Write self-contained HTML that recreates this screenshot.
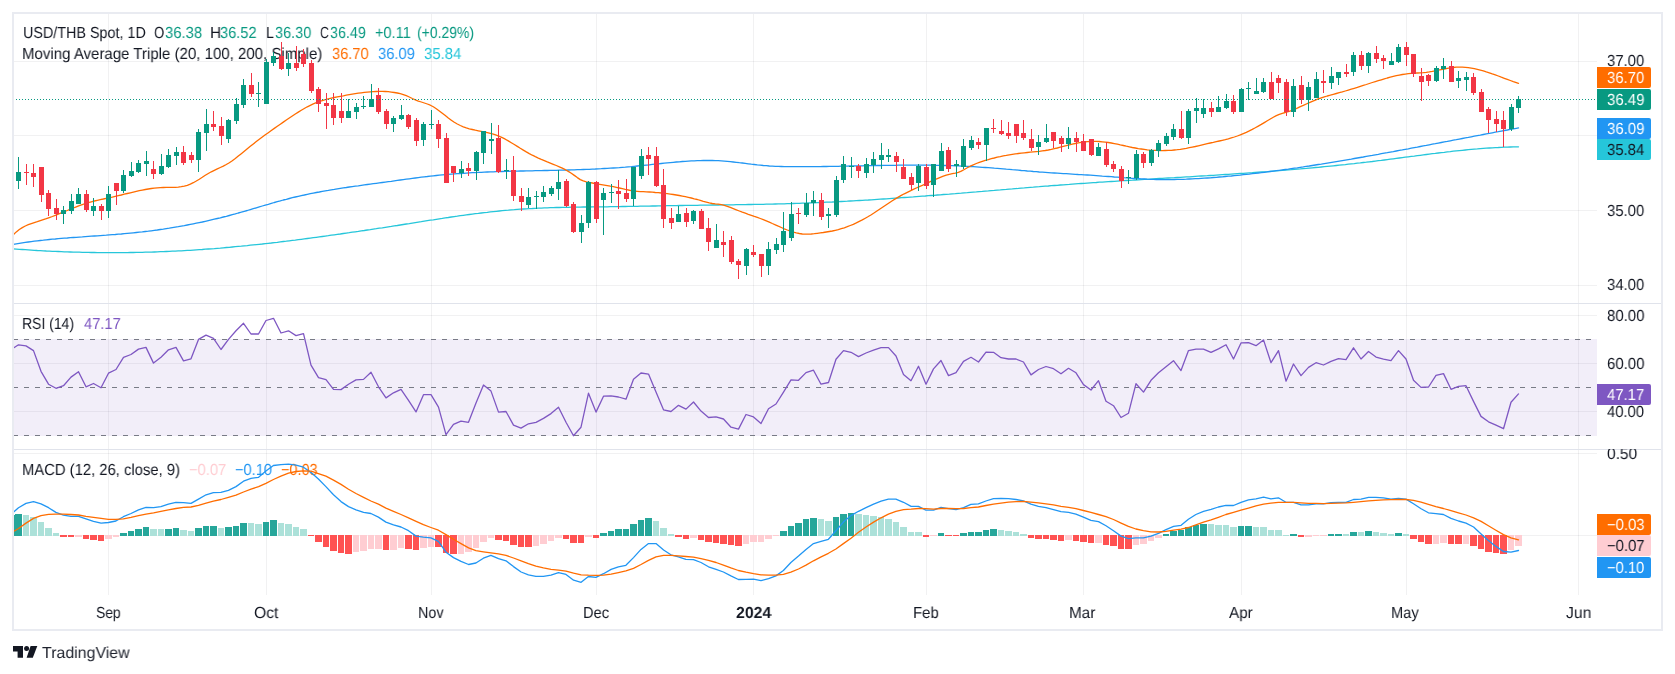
<!DOCTYPE html>
<html><head><meta charset="utf-8"><title>USD/THB chart</title>
<style>
html,body{margin:0;padding:0;background:#fff;}
body{width:1675px;height:674px;position:relative;overflow:hidden;font-family:"Liberation Sans",sans-serif;}
svg{position:absolute;left:0;top:0;display:block;}
.t{position:absolute;white-space:pre;line-height:1;text-rendering:geometricPrecision;transform-origin:0 0;will-change:transform;font-family:"Liberation Sans",sans-serif;}
</style></head><body>
<svg width="1675" height="674" viewBox="0 0 1675 674">
<rect x="0" y="0" width="1675" height="674" fill="#fff"/>
<rect x="108" y="14" width="1" height="581" fill="#2a2e39" fill-opacity="0.065"/>
<rect x="266" y="14" width="1" height="581" fill="#2a2e39" fill-opacity="0.065"/>
<rect x="431" y="14" width="1" height="581" fill="#2a2e39" fill-opacity="0.065"/>
<rect x="596" y="14" width="1" height="581" fill="#2a2e39" fill-opacity="0.065"/>
<rect x="753" y="14" width="1" height="581" fill="#2a2e39" fill-opacity="0.065"/>
<rect x="926" y="14" width="1" height="581" fill="#2a2e39" fill-opacity="0.065"/>
<rect x="1083" y="14" width="1" height="581" fill="#2a2e39" fill-opacity="0.065"/>
<rect x="1241" y="14" width="1" height="581" fill="#2a2e39" fill-opacity="0.065"/>
<rect x="1406" y="14" width="1" height="581" fill="#2a2e39" fill-opacity="0.065"/>
<rect x="1578" y="14" width="1" height="581" fill="#2a2e39" fill-opacity="0.065"/>
<rect x="14" y="61" width="1583" height="1" fill="#2a2e39" fill-opacity="0.065"/>
<rect x="14" y="135" width="1583" height="1" fill="#2a2e39" fill-opacity="0.065"/>
<rect x="14" y="210" width="1583" height="1" fill="#2a2e39" fill-opacity="0.065"/>
<rect x="14" y="285" width="1583" height="1" fill="#2a2e39" fill-opacity="0.065"/>
<rect x="14" y="315" width="1583" height="1" fill="#2a2e39" fill-opacity="0.065"/>
<rect x="14" y="363" width="1583" height="1" fill="#2a2e39" fill-opacity="0.065"/>
<rect x="14" y="411" width="1583" height="1" fill="#2a2e39" fill-opacity="0.065"/>
<rect x="14" y="453" width="1583" height="1" fill="#2a2e39" fill-opacity="0.065"/>
<rect x="14" y="535" width="1583" height="1" fill="#2a2e39" fill-opacity="0.065"/>
<rect x="14" y="339" width="1583" height="97" fill="#7e57c2" fill-opacity="0.1"/>
<line x1="13" y1="339.5" x2="1597" y2="339.5" stroke="#787b86" stroke-width="1" stroke-dasharray="5 6"/>
<line x1="13" y1="387.5" x2="1597" y2="387.5" stroke="#787b86" stroke-width="1" stroke-dasharray="5 6"/>
<line x1="13" y1="435.5" x2="1597" y2="435.5" stroke="#787b86" stroke-width="1" stroke-dasharray="5 6"/>
</svg>
<div class="t" style="left:22.88px;top:26px;font-size:16px;color:#131722;transform:scaleX(0.8963);">USD/THB Spot, 1D</div>
<div class="t" style="left:154.08px;top:26px;font-size:16px;color:#131722;transform:scaleX(0.8273);">O</div>
<div class="t" style="left:164.54px;top:26px;font-size:16px;color:#089981;transform:scaleX(0.9256);">36.38</div>
<div class="t" style="left:209.61px;top:26px;font-size:16px;color:#131722;transform:scaleX(0.9556);">H</div>
<div class="t" style="left:220.44px;top:26px;font-size:16px;color:#089981;transform:scaleX(0.911);">36.52</div>
<div class="t" style="left:266.1px;top:26px;font-size:16px;color:#131722;transform:scaleX(0.8828);">L</div>
<div class="t" style="left:274.55px;top:26px;font-size:16px;color:#089981;transform:scaleX(0.9051);">36.30</div>
<div class="t" style="left:319.63px;top:26px;font-size:16px;color:#131722;transform:scaleX(0.761);">C</div>
<div class="t" style="left:329.65px;top:26px;font-size:16px;color:#089981;transform:scaleX(0.8929);">36.49</div>
<div class="t" style="left:375.02px;top:26px;font-size:16px;color:#089981;transform:scaleX(0.9086);">+0.11</div>
<div class="t" style="left:416.63px;top:26px;font-size:16px;color:#089981;transform:scaleX(0.8724);">(+0.29%)</div>
<div class="t" style="left:22.33px;top:47px;font-size:16px;color:#131722;transform:scaleX(0.9388);">Moving Average Triple (20, 100, 200, Simple)</div>
<div class="t" style="left:332.04px;top:47px;font-size:16px;color:#ff6d00;transform:scaleX(0.9128);">36.70</div>
<div class="t" style="left:377.84px;top:47px;font-size:16px;color:#2196f3;transform:scaleX(0.9187);">36.09</div>
<div class="t" style="left:423.83px;top:47px;font-size:16px;color:#26c6da;transform:scaleX(0.9308);">35.84</div>
<div class="t" style="left:22.31px;top:317px;font-size:16px;color:#131722;transform:scaleX(0.873);">RSI (14)</div>
<div class="t" style="left:83.57px;top:317px;font-size:16px;color:#7e57c2;transform:scaleX(0.9154);">47.17</div>
<div class="t" style="left:22.24px;top:463px;font-size:16px;color:#131722;transform:scaleX(0.9252);">MACD (12, 26, close, 9)</div>
<div class="t" style="left:188.91px;top:463px;font-size:16px;color:#ffcdd2;transform:scaleX(0.9205);">−0.07</div>
<div class="t" style="left:235.21px;top:463px;font-size:16px;color:#2196f3;transform:scaleX(0.9146);">−0.10</div>
<div class="t" style="left:281.42px;top:463px;font-size:16px;color:#ff6d00;transform:scaleX(0.9051);">−0.03</div>
<svg width="1675" height="674" viewBox="0 0 1675 674">
<rect x="14" y="515" width="1" height="21" fill="#26a69a"/>
<rect x="15" y="514" width="7" height="22" fill="#26a69a"/>
<rect x="23" y="515" width="6" height="21" fill="#ace1d9"/>
<rect x="30" y="517" width="7" height="19" fill="#ace1d9"/>
<rect x="38" y="522" width="6" height="14" fill="#ace1d9"/>
<rect x="45" y="528" width="7" height="8" fill="#ace1d9"/>
<rect x="53" y="533" width="6" height="3" fill="#ace1d9"/>
<rect x="60" y="535" width="7" height="2" fill="#ff5252"/>
<rect x="68" y="535" width="6" height="2" fill="#ff5252"/>
<rect x="75" y="535" width="7" height="2" fill="#ffcdd2"/>
<rect x="83" y="535" width="6" height="4" fill="#ff5252"/>
<rect x="90" y="535" width="7" height="5" fill="#ff5252"/>
<rect x="98" y="535" width="6" height="6" fill="#ff5252"/>
<rect x="105" y="535" width="7" height="4" fill="#ffcdd2"/>
<rect x="113" y="535" width="6" height="2" fill="#ffcdd2"/>
<rect x="120" y="533" width="7" height="3" fill="#26a69a"/>
<rect x="128" y="531" width="6" height="5" fill="#26a69a"/>
<rect x="135" y="529" width="7" height="7" fill="#26a69a"/>
<rect x="143" y="527" width="6" height="9" fill="#26a69a"/>
<rect x="150" y="529" width="7" height="7" fill="#ace1d9"/>
<rect x="158" y="529" width="6" height="7" fill="#ace1d9"/>
<rect x="165" y="529" width="7" height="7" fill="#26a69a"/>
<rect x="173" y="528" width="6" height="8" fill="#26a69a"/>
<rect x="180" y="530" width="7" height="6" fill="#ace1d9"/>
<rect x="188" y="531" width="6" height="5" fill="#ace1d9"/>
<rect x="195" y="528" width="7" height="8" fill="#26a69a"/>
<rect x="203" y="526" width="6" height="10" fill="#26a69a"/>
<rect x="210" y="526" width="7" height="10" fill="#26a69a"/>
<rect x="218" y="528" width="6" height="8" fill="#ace1d9"/>
<rect x="225" y="527" width="7" height="9" fill="#26a69a"/>
<rect x="233" y="526" width="6" height="10" fill="#26a69a"/>
<rect x="240" y="523" width="7" height="13" fill="#26a69a"/>
<rect x="248" y="523" width="6" height="13" fill="#ace1d9"/>
<rect x="255" y="524" width="7" height="12" fill="#ace1d9"/>
<rect x="263" y="522" width="6" height="14" fill="#26a69a"/>
<rect x="270" y="520" width="7" height="16" fill="#26a69a"/>
<rect x="278" y="523" width="6" height="13" fill="#ace1d9"/>
<rect x="285" y="524" width="7" height="12" fill="#ace1d9"/>
<rect x="293" y="527" width="6" height="9" fill="#ace1d9"/>
<rect x="300" y="529" width="7" height="7" fill="#ace1d9"/>
<rect x="308" y="535" width="6" height="1" fill="#ff5252"/>
<rect x="315" y="535" width="7" height="7" fill="#ff5252"/>
<rect x="323" y="535" width="6" height="12" fill="#ff5252"/>
<rect x="330" y="535" width="7" height="16" fill="#ff5252"/>
<rect x="338" y="535" width="6" height="18" fill="#ff5252"/>
<rect x="345" y="535" width="7" height="19" fill="#ff5252"/>
<rect x="353" y="535" width="6" height="17" fill="#ffcdd2"/>
<rect x="360" y="535" width="7" height="16" fill="#ffcdd2"/>
<rect x="368" y="535" width="6" height="14" fill="#ffcdd2"/>
<rect x="375" y="535" width="7" height="14" fill="#ffcdd2"/>
<rect x="383" y="535" width="6" height="15" fill="#ff5252"/>
<rect x="390" y="535" width="7" height="15" fill="#ffcdd2"/>
<rect x="398" y="535" width="6" height="13" fill="#ffcdd2"/>
<rect x="405" y="535" width="7" height="14" fill="#ff5252"/>
<rect x="413" y="535" width="6" height="15" fill="#ff5252"/>
<rect x="420" y="535" width="7" height="13" fill="#ffcdd2"/>
<rect x="428" y="535" width="6" height="12" fill="#ffcdd2"/>
<rect x="435" y="535" width="7" height="12" fill="#ff5252"/>
<rect x="443" y="535" width="6" height="18" fill="#ff5252"/>
<rect x="450" y="535" width="7" height="19" fill="#ff5252"/>
<rect x="458" y="535" width="6" height="19" fill="#ffcdd2"/>
<rect x="465" y="535" width="7" height="17" fill="#ffcdd2"/>
<rect x="473" y="535" width="6" height="13" fill="#ffcdd2"/>
<rect x="480" y="535" width="7" height="7" fill="#ffcdd2"/>
<rect x="488" y="535" width="6" height="3" fill="#ffcdd2"/>
<rect x="495" y="535" width="7" height="5" fill="#ff5252"/>
<rect x="503" y="535" width="6" height="6" fill="#ff5252"/>
<rect x="510" y="535" width="7" height="10" fill="#ff5252"/>
<rect x="518" y="535" width="6" height="12" fill="#ff5252"/>
<rect x="525" y="535" width="7" height="12" fill="#ff5252"/>
<rect x="533" y="535" width="6" height="11" fill="#ffcdd2"/>
<rect x="540" y="535" width="7" height="9" fill="#ffcdd2"/>
<rect x="548" y="535" width="6" height="6" fill="#ffcdd2"/>
<rect x="555" y="535" width="7" height="3" fill="#ffcdd2"/>
<rect x="563" y="535" width="6" height="4" fill="#ff5252"/>
<rect x="570" y="535" width="7" height="8" fill="#ff5252"/>
<rect x="578" y="535" width="6" height="8" fill="#ff5252"/>
<rect x="585" y="535" width="7" height="2" fill="#ffcdd2"/>
<rect x="593" y="535" width="6" height="3" fill="#ff5252"/>
<rect x="600" y="533" width="7" height="3" fill="#26a69a"/>
<rect x="608" y="531" width="6" height="5" fill="#26a69a"/>
<rect x="615" y="529" width="7" height="7" fill="#26a69a"/>
<rect x="623" y="529" width="6" height="7" fill="#26a69a"/>
<rect x="630" y="524" width="7" height="12" fill="#26a69a"/>
<rect x="638" y="520" width="6" height="16" fill="#26a69a"/>
<rect x="645" y="518" width="7" height="18" fill="#26a69a"/>
<rect x="653" y="521" width="6" height="15" fill="#ace1d9"/>
<rect x="660" y="528" width="7" height="8" fill="#ace1d9"/>
<rect x="668" y="534" width="6" height="2" fill="#ace1d9"/>
<rect x="675" y="535" width="7" height="2" fill="#ff5252"/>
<rect x="683" y="535" width="6" height="4" fill="#ff5252"/>
<rect x="690" y="535" width="7" height="3" fill="#ffcdd2"/>
<rect x="698" y="535" width="6" height="5" fill="#ff5252"/>
<rect x="705" y="535" width="7" height="7" fill="#ff5252"/>
<rect x="713" y="535" width="6" height="8" fill="#ff5252"/>
<rect x="720" y="535" width="7" height="9" fill="#ff5252"/>
<rect x="728" y="535" width="6" height="10" fill="#ff5252"/>
<rect x="735" y="535" width="7" height="11" fill="#ff5252"/>
<rect x="743" y="535" width="6" height="9" fill="#ffcdd2"/>
<rect x="750" y="535" width="7" height="7" fill="#ffcdd2"/>
<rect x="758" y="535" width="6" height="7" fill="#ffcdd2"/>
<rect x="765" y="535" width="7" height="4" fill="#ffcdd2"/>
<rect x="773" y="535" width="6" height="1" fill="#ffcdd2"/>
<rect x="780" y="531" width="7" height="5" fill="#26a69a"/>
<rect x="788" y="526" width="6" height="10" fill="#26a69a"/>
<rect x="795" y="523" width="7" height="13" fill="#26a69a"/>
<rect x="803" y="519" width="6" height="17" fill="#26a69a"/>
<rect x="810" y="518" width="7" height="18" fill="#26a69a"/>
<rect x="818" y="519" width="6" height="17" fill="#ace1d9"/>
<rect x="825" y="521" width="7" height="15" fill="#ace1d9"/>
<rect x="833" y="517" width="6" height="19" fill="#26a69a"/>
<rect x="840" y="514" width="7" height="22" fill="#26a69a"/>
<rect x="848" y="513" width="6" height="23" fill="#26a69a"/>
<rect x="855" y="514" width="7" height="22" fill="#ace1d9"/>
<rect x="863" y="515" width="6" height="21" fill="#ace1d9"/>
<rect x="870" y="516" width="7" height="20" fill="#ace1d9"/>
<rect x="878" y="517" width="6" height="19" fill="#ace1d9"/>
<rect x="885" y="519" width="7" height="17" fill="#ace1d9"/>
<rect x="893" y="522" width="6" height="14" fill="#ace1d9"/>
<rect x="900" y="527" width="7" height="9" fill="#ace1d9"/>
<rect x="908" y="532" width="6" height="4" fill="#ace1d9"/>
<rect x="915" y="532" width="7" height="4" fill="#ace1d9"/>
<rect x="923" y="535" width="6" height="2" fill="#ff5252"/>
<rect x="930" y="535" width="7" height="1" fill="#ffcdd2"/>
<rect x="938" y="533" width="6" height="3" fill="#26a69a"/>
<rect x="945" y="535" width="7" height="1" fill="#ff5252"/>
<rect x="953" y="535" width="6" height="1" fill="#ff5252"/>
<rect x="960" y="533" width="7" height="3" fill="#26a69a"/>
<rect x="968" y="532" width="6" height="4" fill="#26a69a"/>
<rect x="975" y="532" width="7" height="4" fill="#26a69a"/>
<rect x="983" y="530" width="6" height="6" fill="#26a69a"/>
<rect x="990" y="529" width="7" height="7" fill="#26a69a"/>
<rect x="998" y="530" width="6" height="6" fill="#ace1d9"/>
<rect x="1005" y="531" width="7" height="5" fill="#ace1d9"/>
<rect x="1013" y="532" width="6" height="4" fill="#ace1d9"/>
<rect x="1020" y="534" width="7" height="2" fill="#ace1d9"/>
<rect x="1028" y="535" width="6" height="3" fill="#ff5252"/>
<rect x="1035" y="535" width="7" height="4" fill="#ff5252"/>
<rect x="1043" y="535" width="6" height="4" fill="#ff5252"/>
<rect x="1050" y="535" width="7" height="5" fill="#ff5252"/>
<rect x="1058" y="535" width="6" height="6" fill="#ff5252"/>
<rect x="1065" y="535" width="7" height="5" fill="#ffcdd2"/>
<rect x="1073" y="535" width="6" height="6" fill="#ff5252"/>
<rect x="1080" y="535" width="7" height="7" fill="#ff5252"/>
<rect x="1088" y="535" width="6" height="8" fill="#ff5252"/>
<rect x="1095" y="535" width="7" height="8" fill="#ffcdd2"/>
<rect x="1103" y="535" width="6" height="10" fill="#ff5252"/>
<rect x="1110" y="535" width="7" height="11" fill="#ff5252"/>
<rect x="1118" y="535" width="6" height="14" fill="#ff5252"/>
<rect x="1125" y="535" width="7" height="14" fill="#ff5252"/>
<rect x="1133" y="535" width="6" height="10" fill="#ffcdd2"/>
<rect x="1140" y="535" width="7" height="9" fill="#ffcdd2"/>
<rect x="1148" y="535" width="6" height="6" fill="#ffcdd2"/>
<rect x="1155" y="535" width="7" height="3" fill="#ffcdd2"/>
<rect x="1163" y="534" width="6" height="2" fill="#26a69a"/>
<rect x="1170" y="531" width="7" height="5" fill="#26a69a"/>
<rect x="1178" y="530" width="6" height="6" fill="#26a69a"/>
<rect x="1185" y="527" width="7" height="9" fill="#26a69a"/>
<rect x="1193" y="525" width="6" height="11" fill="#26a69a"/>
<rect x="1200" y="524" width="7" height="12" fill="#26a69a"/>
<rect x="1208" y="524" width="6" height="12" fill="#ace1d9"/>
<rect x="1215" y="525" width="7" height="11" fill="#ace1d9"/>
<rect x="1223" y="525" width="6" height="11" fill="#ace1d9"/>
<rect x="1230" y="527" width="7" height="9" fill="#ace1d9"/>
<rect x="1238" y="526" width="6" height="10" fill="#26a69a"/>
<rect x="1245" y="526" width="7" height="10" fill="#26a69a"/>
<rect x="1253" y="527" width="6" height="9" fill="#ace1d9"/>
<rect x="1260" y="527" width="7" height="9" fill="#ace1d9"/>
<rect x="1268" y="530" width="6" height="6" fill="#ace1d9"/>
<rect x="1275" y="530" width="7" height="6" fill="#ace1d9"/>
<rect x="1283" y="535" width="6" height="1" fill="#ace1d9"/>
<rect x="1290" y="534" width="7" height="2" fill="#26a69a"/>
<rect x="1298" y="535" width="6" height="2" fill="#ff5252"/>
<rect x="1305" y="535" width="7" height="2" fill="#ffcdd2"/>
<rect x="1313" y="535" width="6" height="1" fill="#ffcdd2"/>
<rect x="1320" y="535" width="7" height="1" fill="#ffcdd2"/>
<rect x="1328" y="534" width="6" height="2" fill="#26a69a"/>
<rect x="1335" y="534" width="7" height="2" fill="#26a69a"/>
<rect x="1343" y="534" width="6" height="2" fill="#ace1d9"/>
<rect x="1350" y="532" width="7" height="4" fill="#26a69a"/>
<rect x="1358" y="532" width="6" height="4" fill="#ace1d9"/>
<rect x="1365" y="531" width="7" height="5" fill="#26a69a"/>
<rect x="1373" y="532" width="6" height="4" fill="#ace1d9"/>
<rect x="1380" y="533" width="7" height="3" fill="#ace1d9"/>
<rect x="1388" y="534" width="6" height="2" fill="#ace1d9"/>
<rect x="1395" y="533" width="7" height="3" fill="#26a69a"/>
<rect x="1403" y="534" width="6" height="2" fill="#ace1d9"/>
<rect x="1410" y="535" width="7" height="4" fill="#ff5252"/>
<rect x="1418" y="535" width="6" height="7" fill="#ff5252"/>
<rect x="1425" y="535" width="7" height="9" fill="#ff5252"/>
<rect x="1433" y="535" width="6" height="9" fill="#ffcdd2"/>
<rect x="1440" y="535" width="7" height="8" fill="#ffcdd2"/>
<rect x="1448" y="535" width="6" height="9" fill="#ff5252"/>
<rect x="1455" y="535" width="7" height="9" fill="#ff5252"/>
<rect x="1463" y="535" width="6" height="9" fill="#ffcdd2"/>
<rect x="1470" y="535" width="7" height="11" fill="#ff5252"/>
<rect x="1478" y="535" width="6" height="14" fill="#ff5252"/>
<rect x="1485" y="535" width="7" height="17" fill="#ff5252"/>
<rect x="1493" y="535" width="6" height="18" fill="#ff5252"/>
<rect x="1500" y="535" width="7" height="19" fill="#ff5252"/>
<rect x="1508" y="535" width="6" height="15" fill="#ffcdd2"/>
<rect x="1515" y="535" width="7" height="11" fill="#ffcdd2"/>
<path d="M13.3 248.9 L16.3 249.1 L19.3 249.3 L22.3 249.5 L25.3 249.7 L28.3 249.9 L31.3 250.1 L34.3 250.3 L37.3 250.5 L40.3 250.6 L43.3 250.8 L46.3 251.0 L49.3 251.1 L52.3 251.3 L55.3 251.4 L58.3 251.5 L61.3 251.6 L64.3 251.8 L67.3 251.9 L70.3 252.0 L73.3 252.1 L76.3 252.1 L79.3 252.2 L82.3 252.3 L85.3 252.4 L88.3 252.4 L91.3 252.5 L94.3 252.5 L97.3 252.6 L100.3 252.6 L103.3 252.6 L106.3 252.6 L109.3 252.6 L112.3 252.6 L115.3 252.6 L118.3 252.6 L121.3 252.6 L124.3 252.6 L127.3 252.6 L130.3 252.5 L133.3 252.5 L136.3 252.4 L139.3 252.4 L142.3 252.3 L145.3 252.2 L148.3 252.1 L151.3 252.1 L154.3 252.0 L157.3 251.9 L160.3 251.7 L163.3 251.6 L166.3 251.5 L169.3 251.4 L172.3 251.2 L175.3 251.1 L178.3 250.9 L181.3 250.8 L184.3 250.6 L187.3 250.4 L190.3 250.3 L193.3 250.1 L196.3 249.9 L199.3 249.7 L202.3 249.5 L205.3 249.2 L208.3 249.0 L211.3 248.8 L214.3 248.6 L217.3 248.3 L220.3 248.1 L223.3 247.8 L226.3 247.5 L229.3 247.3 L232.3 247.0 L235.3 246.7 L238.3 246.4 L241.3 246.2 L244.3 245.9 L247.3 245.6 L250.3 245.2 L253.3 244.9 L256.3 244.6 L259.3 244.3 L262.3 244.0 L265.3 243.6 L268.3 243.3 L271.3 243.0 L274.3 242.6 L277.3 242.3 L280.3 241.9 L283.3 241.5 L286.3 241.2 L289.3 240.8 L292.3 240.4 L295.3 240.1 L298.3 239.7 L301.3 239.3 L304.3 238.9 L307.3 238.5 L310.3 238.1 L313.3 237.7 L316.3 237.3 L319.3 236.9 L322.3 236.5 L325.3 236.1 L328.3 235.7 L331.3 235.2 L334.3 234.8 L337.3 234.4 L340.3 234.0 L343.3 233.5 L346.3 233.1 L349.3 232.7 L352.3 232.2 L355.3 231.8 L358.3 231.4 L361.3 230.9 L364.3 230.5 L367.3 230.0 L370.3 229.6 L373.3 229.1 L376.3 228.7 L379.3 228.2 L382.3 227.8 L385.3 227.3 L388.3 226.8 L391.3 226.4 L394.3 225.9 L397.3 225.5 L400.3 225.0 L403.3 224.5 L406.3 224.0 L409.3 223.6 L412.3 223.1 L415.3 222.6 L418.3 222.1 L421.3 221.7 L424.3 221.2 L427.3 220.7 L430.3 220.2 L433.3 219.8 L436.3 219.3 L439.3 218.8 L442.3 218.4 L445.3 217.9 L448.3 217.5 L451.3 217.0 L454.3 216.6 L457.3 216.2 L460.3 215.7 L463.3 215.3 L466.3 214.9 L469.3 214.5 L472.3 214.1 L475.3 213.7 L478.3 213.4 L481.3 213.0 L484.3 212.6 L487.3 212.3 L490.3 211.9 L493.3 211.6 L496.3 211.3 L499.3 211.0 L502.3 210.7 L505.3 210.4 L508.3 210.2 L511.3 209.9 L514.3 209.7 L517.3 209.4 L520.3 209.2 L523.3 209.0 L526.3 208.8 L529.3 208.6 L532.3 208.5 L535.3 208.3 L538.3 208.2 L541.3 208.1 L544.3 207.9 L547.3 207.8 L550.3 207.7 L553.3 207.6 L556.3 207.5 L559.3 207.5 L562.3 207.4 L565.3 207.3 L568.3 207.3 L571.3 207.2 L574.3 207.2 L577.3 207.1 L580.3 207.1 L583.3 207.0 L586.3 207.0 L589.3 207.0 L592.3 206.9 L595.3 206.9 L598.3 206.9 L601.3 206.8 L604.3 206.8 L607.3 206.8 L610.3 206.7 L613.3 206.7 L616.3 206.6 L619.3 206.6 L622.3 206.5 L625.3 206.5 L628.3 206.4 L631.3 206.4 L634.3 206.3 L637.3 206.3 L640.3 206.2 L643.3 206.2 L646.3 206.1 L649.3 206.1 L652.3 206.0 L655.3 206.0 L658.3 205.9 L661.3 205.8 L664.3 205.8 L667.3 205.7 L670.3 205.7 L673.3 205.6 L676.3 205.6 L679.3 205.5 L682.3 205.5 L685.3 205.4 L688.3 205.4 L691.3 205.3 L694.3 205.3 L697.3 205.3 L700.3 205.2 L703.3 205.2 L706.3 205.1 L709.3 205.1 L712.3 205.0 L715.3 205.0 L718.3 205.0 L721.3 204.9 L724.3 204.9 L727.3 204.9 L730.3 204.8 L733.3 204.8 L736.3 204.7 L739.3 204.7 L742.3 204.6 L745.3 204.6 L748.3 204.5 L751.3 204.5 L754.3 204.4 L757.3 204.4 L760.3 204.3 L763.3 204.3 L766.3 204.2 L769.3 204.2 L772.3 204.1 L775.3 204.0 L778.3 203.9 L781.3 203.9 L784.3 203.8 L787.3 203.7 L790.3 203.6 L793.3 203.5 L796.3 203.4 L799.3 203.3 L802.3 203.2 L805.3 203.1 L808.3 203.0 L811.3 202.9 L814.3 202.8 L817.3 202.6 L820.3 202.5 L823.3 202.4 L826.3 202.2 L829.3 202.1 L832.3 202.0 L835.3 201.8 L838.3 201.7 L841.3 201.5 L844.3 201.3 L847.3 201.2 L850.3 201.0 L853.3 200.9 L856.3 200.7 L859.3 200.5 L862.3 200.3 L865.3 200.1 L868.3 200.0 L871.3 199.8 L874.3 199.6 L877.3 199.4 L880.3 199.2 L883.3 199.0 L886.3 198.8 L889.3 198.6 L892.3 198.4 L895.3 198.2 L898.3 198.0 L901.3 197.7 L904.3 197.5 L907.3 197.3 L910.3 197.1 L913.3 196.9 L916.3 196.6 L919.3 196.4 L922.3 196.2 L925.3 196.0 L928.3 195.7 L931.3 195.5 L934.3 195.3 L937.3 195.0 L940.3 194.8 L943.3 194.5 L946.3 194.3 L949.3 194.1 L952.3 193.8 L955.3 193.6 L958.3 193.3 L961.3 193.1 L964.3 192.8 L967.3 192.6 L970.3 192.3 L973.3 192.1 L976.3 191.9 L979.3 191.6 L982.3 191.4 L985.3 191.1 L988.3 190.9 L991.3 190.6 L994.3 190.4 L997.3 190.1 L1000.3 189.9 L1003.3 189.6 L1006.3 189.4 L1009.3 189.1 L1012.3 188.9 L1015.3 188.6 L1018.3 188.4 L1021.3 188.1 L1024.3 187.9 L1027.3 187.6 L1030.3 187.4 L1033.3 187.2 L1036.3 186.9 L1039.3 186.7 L1042.3 186.4 L1045.3 186.2 L1048.3 186.0 L1051.3 185.7 L1054.3 185.5 L1057.3 185.3 L1060.3 185.0 L1063.3 184.8 L1066.3 184.6 L1069.3 184.4 L1072.3 184.1 L1075.3 183.9 L1078.3 183.7 L1081.3 183.5 L1084.3 183.3 L1087.3 183.1 L1090.3 182.9 L1093.3 182.7 L1096.3 182.5 L1099.3 182.2 L1102.3 182.1 L1105.3 181.9 L1108.3 181.7 L1111.3 181.5 L1114.3 181.3 L1117.3 181.1 L1120.3 180.9 L1123.3 180.7 L1126.3 180.5 L1129.3 180.3 L1132.3 180.2 L1135.3 180.0 L1138.3 179.8 L1141.3 179.6 L1144.3 179.4 L1147.3 179.3 L1150.3 179.1 L1153.3 178.9 L1156.3 178.7 L1159.3 178.5 L1162.3 178.4 L1165.3 178.2 L1168.3 178.0 L1171.3 177.8 L1174.3 177.7 L1177.3 177.5 L1180.3 177.3 L1183.3 177.1 L1186.3 176.9 L1189.3 176.8 L1192.3 176.6 L1195.3 176.4 L1198.3 176.2 L1201.3 176.0 L1204.3 175.8 L1207.3 175.7 L1210.3 175.5 L1213.3 175.3 L1216.3 175.1 L1219.3 174.9 L1222.3 174.7 L1225.3 174.5 L1228.3 174.3 L1231.3 174.1 L1234.3 173.9 L1237.3 173.7 L1240.3 173.5 L1243.3 173.3 L1246.3 173.1 L1249.3 172.9 L1252.3 172.7 L1255.3 172.4 L1258.3 172.2 L1261.3 172.0 L1264.3 171.8 L1267.3 171.6 L1270.3 171.3 L1273.3 171.1 L1276.3 170.9 L1279.3 170.6 L1282.3 170.4 L1285.3 170.1 L1288.3 169.9 L1291.3 169.7 L1294.3 169.4 L1297.3 169.1 L1300.3 168.9 L1303.3 168.6 L1306.3 168.4 L1309.3 168.1 L1312.3 167.8 L1315.3 167.5 L1318.3 167.3 L1321.3 167.0 L1324.3 166.7 L1327.3 166.4 L1330.3 166.1 L1333.3 165.8 L1336.3 165.5 L1339.3 165.2 L1342.3 164.9 L1345.3 164.6 L1348.3 164.2 L1351.3 163.9 L1354.3 163.6 L1357.3 163.2 L1360.3 162.9 L1363.3 162.5 L1366.3 162.2 L1369.3 161.8 L1372.3 161.5 L1375.3 161.1 L1378.3 160.7 L1381.3 160.4 L1384.3 160.0 L1387.3 159.6 L1390.3 159.2 L1393.3 158.8 L1396.3 158.4 L1399.3 158.0 L1402.3 157.6 L1405.3 157.2 L1408.3 156.8 L1411.3 156.4 L1414.3 156.1 L1417.3 155.7 L1420.3 155.3 L1423.3 154.9 L1426.3 154.5 L1429.3 154.1 L1432.3 153.7 L1435.3 153.4 L1438.3 153.0 L1441.3 152.6 L1444.3 152.3 L1447.3 151.9 L1450.3 151.6 L1453.3 151.2 L1456.3 150.9 L1459.3 150.6 L1462.3 150.3 L1465.3 150.0 L1468.3 149.7 L1471.3 149.4 L1474.3 149.1 L1477.3 148.9 L1480.3 148.6 L1483.3 148.4 L1486.3 148.2 L1489.3 148.0 L1492.3 147.8 L1495.3 147.6 L1498.3 147.5 L1501.3 147.3 L1504.3 147.2 L1507.3 147.1 L1510.3 147.0 L1513.3 146.9 L1516.3 146.9 L1518.5 146.8" fill="none" stroke="#26c6da" stroke-width="1.3" stroke-linejoin="round" stroke-linecap="round" />
<path d="M13.3 244.3 L16.3 243.8 L19.3 243.3 L22.3 242.8 L25.3 242.4 L28.3 242.0 L31.3 241.6 L34.3 241.2 L37.3 240.8 L40.3 240.5 L43.3 240.2 L46.3 239.8 L49.3 239.5 L52.3 239.2 L55.3 239.0 L58.3 238.7 L61.3 238.4 L64.3 238.2 L67.3 238.0 L70.3 237.7 L73.3 237.5 L76.3 237.3 L79.3 237.1 L82.3 236.9 L85.3 236.6 L88.3 236.4 L91.3 236.2 L94.3 236.0 L97.3 235.8 L100.3 235.6 L103.3 235.4 L106.3 235.2 L109.3 234.9 L112.3 234.7 L115.3 234.5 L118.3 234.2 L121.3 234.0 L124.3 233.7 L127.3 233.4 L130.3 233.1 L133.3 232.8 L136.3 232.5 L139.3 232.2 L142.3 231.9 L145.3 231.5 L148.3 231.2 L151.3 230.8 L154.3 230.4 L157.3 230.0 L160.3 229.5 L163.3 229.1 L166.3 228.6 L169.3 228.2 L172.3 227.7 L175.3 227.2 L178.3 226.7 L181.3 226.1 L184.3 225.6 L187.3 225.0 L190.3 224.4 L193.3 223.8 L196.3 223.2 L199.3 222.6 L202.3 222.0 L205.3 221.3 L208.3 220.6 L211.3 219.9 L214.3 219.2 L217.3 218.5 L220.3 217.8 L223.3 217.0 L226.3 216.3 L229.3 215.5 L232.3 214.7 L235.3 213.9 L238.3 213.0 L241.3 212.2 L244.3 211.3 L247.3 210.5 L250.3 209.6 L253.3 208.7 L256.3 207.8 L259.3 206.9 L262.3 206.0 L265.3 205.1 L268.3 204.3 L271.3 203.4 L274.3 202.5 L277.3 201.7 L280.3 200.9 L283.3 200.0 L286.3 199.3 L289.3 198.5 L292.3 197.7 L295.3 197.0 L298.3 196.3 L301.3 195.6 L304.3 195.0 L307.3 194.3 L310.3 193.7 L313.3 193.1 L316.3 192.5 L319.3 192.0 L322.3 191.4 L325.3 190.9 L328.3 190.4 L331.3 189.8 L334.3 189.4 L337.3 188.9 L340.3 188.4 L343.3 187.9 L346.3 187.5 L349.3 187.0 L352.3 186.6 L355.3 186.2 L358.3 185.8 L361.3 185.3 L364.3 184.9 L367.3 184.5 L370.3 184.1 L373.3 183.7 L376.3 183.3 L379.3 182.9 L382.3 182.5 L385.3 182.1 L388.3 181.7 L391.3 181.3 L394.3 180.8 L397.3 180.4 L400.3 180.0 L403.3 179.6 L406.3 179.2 L409.3 178.8 L412.3 178.4 L415.3 178.0 L418.3 177.6 L421.3 177.2 L424.3 176.8 L427.3 176.5 L430.3 176.1 L433.3 175.8 L436.3 175.5 L439.3 175.2 L442.3 174.9 L445.3 174.6 L448.3 174.4 L451.3 174.1 L454.3 173.9 L457.3 173.7 L460.3 173.5 L463.3 173.3 L466.3 173.1 L469.3 172.9 L472.3 172.7 L475.3 172.6 L478.3 172.4 L481.3 172.3 L484.3 172.1 L487.3 172.0 L490.3 171.9 L493.3 171.8 L496.3 171.7 L499.3 171.6 L502.3 171.5 L505.3 171.4 L508.3 171.3 L511.3 171.2 L514.3 171.2 L517.3 171.1 L520.3 171.0 L523.3 171.0 L526.3 170.9 L529.3 170.8 L532.3 170.8 L535.3 170.7 L538.3 170.7 L541.3 170.6 L544.3 170.5 L547.3 170.5 L550.3 170.4 L553.3 170.3 L556.3 170.3 L559.3 170.2 L562.3 170.1 L565.3 170.1 L568.3 170.0 L571.3 169.9 L574.3 169.8 L577.3 169.7 L580.3 169.6 L583.3 169.5 L586.3 169.4 L589.3 169.3 L592.3 169.1 L595.3 169.0 L598.3 168.8 L601.3 168.7 L604.3 168.5 L607.3 168.4 L610.3 168.2 L613.3 168.0 L616.3 167.8 L619.3 167.6 L622.3 167.3 L625.3 167.1 L628.3 166.8 L631.3 166.6 L634.3 166.3 L637.3 166.0 L640.3 165.7 L643.3 165.4 L646.3 165.1 L649.3 164.8 L652.3 164.4 L655.3 164.1 L658.3 163.8 L661.3 163.5 L664.3 163.2 L667.3 162.9 L670.3 162.6 L673.3 162.3 L676.3 162.0 L679.3 161.8 L682.3 161.5 L685.3 161.3 L688.3 161.1 L691.3 160.9 L694.3 160.8 L697.3 160.7 L700.3 160.6 L703.3 160.5 L706.3 160.5 L709.3 160.5 L712.3 160.5 L715.3 160.6 L718.3 160.7 L721.3 160.9 L724.3 161.1 L727.3 161.4 L730.3 161.7 L733.3 162.0 L736.3 162.3 L739.3 162.7 L742.3 163.0 L745.3 163.4 L748.3 163.8 L751.3 164.2 L754.3 164.5 L757.3 164.9 L760.3 165.2 L763.3 165.5 L766.3 165.7 L769.3 166.0 L772.3 166.1 L775.3 166.3 L778.3 166.4 L781.3 166.5 L784.3 166.6 L787.3 166.7 L790.3 166.7 L793.3 166.7 L796.3 166.7 L799.3 166.7 L802.3 166.7 L805.3 166.7 L808.3 166.7 L811.3 166.7 L814.3 166.6 L817.3 166.6 L820.3 166.6 L823.3 166.5 L826.3 166.5 L829.3 166.4 L832.3 166.4 L835.3 166.3 L838.3 166.3 L841.3 166.2 L844.3 166.2 L847.3 166.1 L850.3 166.0 L853.3 166.0 L856.3 165.9 L859.3 165.9 L862.3 165.8 L865.3 165.7 L868.3 165.7 L871.3 165.6 L874.3 165.6 L877.3 165.5 L880.3 165.5 L883.3 165.4 L886.3 165.4 L889.3 165.3 L892.3 165.3 L895.3 165.3 L898.3 165.2 L901.3 165.2 L904.3 165.2 L907.3 165.2 L910.3 165.1 L913.3 165.1 L916.3 165.1 L919.3 165.1 L922.3 165.2 L925.3 165.2 L928.3 165.2 L931.3 165.2 L934.3 165.3 L937.3 165.3 L940.3 165.4 L943.3 165.5 L946.3 165.5 L949.3 165.6 L952.3 165.7 L955.3 165.8 L958.3 165.9 L961.3 166.1 L964.3 166.2 L967.3 166.3 L970.3 166.5 L973.3 166.7 L976.3 166.9 L979.3 167.1 L982.3 167.3 L985.3 167.5 L988.3 167.7 L991.3 167.9 L994.3 168.2 L997.3 168.4 L1000.3 168.6 L1003.3 168.9 L1006.3 169.2 L1009.3 169.4 L1012.3 169.7 L1015.3 169.9 L1018.3 170.2 L1021.3 170.5 L1024.3 170.7 L1027.3 171.0 L1030.3 171.2 L1033.3 171.5 L1036.3 171.7 L1039.3 172.0 L1042.3 172.2 L1045.3 172.4 L1048.3 172.6 L1051.3 172.8 L1054.3 173.0 L1057.3 173.2 L1060.3 173.4 L1063.3 173.6 L1066.3 173.7 L1069.3 173.9 L1072.3 174.1 L1075.3 174.3 L1078.3 174.5 L1081.3 174.6 L1084.3 174.8 L1087.3 175.0 L1090.3 175.2 L1093.3 175.4 L1096.3 175.6 L1099.3 175.8 L1102.3 176.1 L1105.3 176.3 L1108.3 176.5 L1111.3 176.7 L1114.3 177.0 L1117.3 177.2 L1120.3 177.4 L1123.3 177.7 L1126.3 177.9 L1129.3 178.1 L1132.3 178.3 L1135.3 178.5 L1138.3 178.7 L1141.3 178.9 L1144.3 179.0 L1147.3 179.2 L1150.3 179.3 L1153.3 179.4 L1156.3 179.5 L1159.3 179.5 L1162.3 179.6 L1165.3 179.6 L1168.3 179.6 L1171.3 179.6 L1174.3 179.5 L1177.3 179.4 L1180.3 179.4 L1183.3 179.3 L1186.3 179.2 L1189.3 179.0 L1192.3 178.9 L1195.3 178.7 L1198.3 178.6 L1201.3 178.4 L1204.3 178.2 L1207.3 178.0 L1210.3 177.8 L1213.3 177.5 L1216.3 177.3 L1219.3 177.0 L1222.3 176.8 L1225.3 176.5 L1228.3 176.2 L1231.3 176.0 L1234.3 175.7 L1237.3 175.4 L1240.3 175.1 L1243.3 174.7 L1246.3 174.4 L1249.3 174.1 L1252.3 173.7 L1255.3 173.4 L1258.3 173.0 L1261.3 172.7 L1264.3 172.3 L1267.3 171.9 L1270.3 171.5 L1273.3 171.1 L1276.3 170.7 L1279.3 170.3 L1282.3 169.9 L1285.3 169.5 L1288.3 169.1 L1291.3 168.6 L1294.3 168.2 L1297.3 167.8 L1300.3 167.3 L1303.3 166.9 L1306.3 166.4 L1309.3 166.0 L1312.3 165.5 L1315.3 165.0 L1318.3 164.5 L1321.3 164.1 L1324.3 163.6 L1327.3 163.1 L1330.3 162.6 L1333.3 162.1 L1336.3 161.6 L1339.3 161.1 L1342.3 160.6 L1345.3 160.1 L1348.3 159.6 L1351.3 159.1 L1354.3 158.5 L1357.3 158.0 L1360.3 157.5 L1363.3 157.0 L1366.3 156.4 L1369.3 155.9 L1372.3 155.4 L1375.3 154.8 L1378.3 154.3 L1381.3 153.7 L1384.3 153.2 L1387.3 152.7 L1390.3 152.1 L1393.3 151.6 L1396.3 151.0 L1399.3 150.4 L1402.3 149.9 L1405.3 149.3 L1408.3 148.8 L1411.3 148.2 L1414.3 147.6 L1417.3 147.1 L1420.3 146.5 L1423.3 145.9 L1426.3 145.4 L1429.3 144.8 L1432.3 144.2 L1435.3 143.7 L1438.3 143.1 L1441.3 142.5 L1444.3 141.9 L1447.3 141.4 L1450.3 140.8 L1453.3 140.2 L1456.3 139.7 L1459.3 139.1 L1462.3 138.5 L1465.3 137.9 L1468.3 137.4 L1471.3 136.8 L1474.3 136.2 L1477.3 135.6 L1480.3 135.1 L1483.3 134.5 L1486.3 133.9 L1489.3 133.4 L1492.3 132.8 L1495.3 132.2 L1498.3 131.7 L1501.3 131.1 L1504.3 130.5 L1507.3 130.0 L1510.3 129.4 L1513.3 128.8 L1516.3 128.3 L1518.5 127.9" fill="none" stroke="#2196f3" stroke-width="1.3" stroke-linejoin="round" stroke-linecap="round" />
<path d="M13.3 234.8 L16.3 231.9 L19.3 229.5 L22.3 227.6 L25.3 226.0 L28.3 224.7 L31.3 223.6 L34.3 222.6 L37.3 221.7 L40.3 220.7 L43.3 219.7 L46.3 218.7 L49.3 217.6 L52.3 216.5 L55.3 215.3 L58.3 214.1 L61.3 212.9 L64.3 211.7 L67.3 210.5 L70.3 209.2 L73.3 208.0 L76.3 206.8 L79.3 205.7 L82.3 204.6 L85.3 203.5 L88.3 202.6 L91.3 201.8 L94.3 201.0 L97.3 200.3 L100.3 199.6 L103.3 199.0 L106.3 198.3 L109.3 197.7 L112.3 197.1 L115.3 196.4 L118.3 195.7 L121.3 195.0 L124.3 194.2 L127.3 193.5 L130.3 192.8 L133.3 192.1 L136.3 191.4 L139.3 190.7 L142.3 190.1 L145.3 189.5 L148.3 189.0 L151.3 188.5 L154.3 188.1 L157.3 187.8 L160.3 187.6 L163.3 187.5 L166.3 187.4 L169.3 187.4 L172.3 187.4 L175.3 187.3 L178.3 187.1 L181.3 186.7 L184.3 186.1 L187.3 185.3 L190.3 184.1 L193.3 182.7 L196.3 181.0 L199.3 179.2 L202.3 177.3 L205.3 175.3 L208.3 173.5 L211.3 171.8 L214.3 170.3 L217.3 168.9 L220.3 167.5 L223.3 166.1 L226.3 164.5 L229.3 162.7 L232.3 160.7 L235.3 158.5 L238.3 156.1 L241.3 153.7 L244.3 151.2 L247.3 148.7 L250.3 146.3 L253.3 143.9 L256.3 141.6 L259.3 139.3 L262.3 137.1 L265.3 134.8 L268.3 132.7 L271.3 130.5 L274.3 128.4 L277.3 126.3 L280.3 124.2 L283.3 122.1 L286.3 120.0 L289.3 118.0 L292.3 116.0 L295.3 114.0 L298.3 112.1 L301.3 110.2 L304.3 108.5 L307.3 106.8 L310.3 105.3 L313.3 103.9 L316.3 102.6 L319.3 101.5 L322.3 100.6 L325.3 99.7 L328.3 98.9 L331.3 98.2 L334.3 97.5 L337.3 96.9 L340.3 96.3 L343.3 95.8 L346.3 95.2 L349.3 94.7 L352.3 94.2 L355.3 93.7 L358.3 93.2 L361.3 92.8 L364.3 92.4 L367.3 92.1 L370.3 91.8 L373.3 91.6 L376.3 91.5 L379.3 91.4 L382.3 91.4 L385.3 91.5 L388.3 91.7 L391.3 92.1 L394.3 92.5 L397.3 93.0 L400.3 93.7 L403.3 94.6 L406.3 95.7 L409.3 97.0 L412.3 98.5 L415.3 99.9 L418.3 101.1 L421.3 102.0 L424.3 103.0 L427.3 104.0 L430.3 105.2 L433.3 106.8 L436.3 108.7 L439.3 110.9 L442.3 113.2 L445.3 115.6 L448.3 118.0 L451.3 120.2 L454.3 122.3 L457.3 124.0 L460.3 125.5 L463.3 126.8 L466.3 127.9 L469.3 128.8 L472.3 129.5 L475.3 130.2 L478.3 130.8 L481.3 131.4 L484.3 132.0 L487.3 132.6 L490.3 133.3 L493.3 134.2 L496.3 135.2 L499.3 136.3 L502.3 137.7 L505.3 139.2 L508.3 140.9 L511.3 142.7 L514.3 144.5 L517.3 146.4 L520.3 148.3 L523.3 150.1 L526.3 151.9 L529.3 153.6 L532.3 155.2 L535.3 156.7 L538.3 158.1 L541.3 159.4 L544.3 160.6 L547.3 161.9 L550.3 163.1 L553.3 164.3 L556.3 165.5 L559.3 166.8 L562.3 168.2 L565.3 169.7 L568.3 171.4 L571.3 173.3 L574.3 175.4 L577.3 177.6 L580.3 179.6 L583.3 180.9 L586.3 181.8 L589.3 182.4 L592.3 183.0 L595.3 183.6 L598.3 184.1 L601.3 184.6 L604.3 185.1 L607.3 185.6 L610.3 186.2 L613.3 186.7 L616.3 187.3 L619.3 188.0 L622.3 188.7 L625.3 189.4 L628.3 190.0 L631.3 190.6 L634.3 191.0 L637.3 191.3 L640.3 191.6 L643.3 191.7 L646.3 191.9 L649.3 192.0 L652.3 192.2 L655.3 192.5 L658.3 192.7 L661.3 193.0 L664.3 193.3 L667.3 193.7 L670.3 194.1 L673.3 194.5 L676.3 195.0 L679.3 195.5 L682.3 196.1 L685.3 196.7 L688.3 197.3 L691.3 198.0 L694.3 198.8 L697.3 199.5 L700.3 200.4 L703.3 201.3 L706.3 202.1 L709.3 202.9 L712.3 203.5 L715.3 203.9 L718.3 204.2 L721.3 204.7 L724.3 205.4 L727.3 206.3 L730.3 207.4 L733.3 208.6 L736.3 209.8 L739.3 211.0 L742.3 212.2 L745.3 213.2 L748.3 214.3 L751.3 215.3 L754.3 216.4 L757.3 217.4 L760.3 218.5 L763.3 219.7 L766.3 220.9 L769.3 222.1 L772.3 223.5 L775.3 224.8 L778.3 226.2 L781.3 227.5 L784.3 228.8 L787.3 230.0 L790.3 231.1 L793.3 232.1 L796.3 232.9 L799.3 233.5 L802.3 234.0 L805.3 234.2 L808.3 234.2 L811.3 234.0 L814.3 233.7 L817.3 233.3 L820.3 232.9 L823.3 232.5 L826.3 232.0 L829.3 231.5 L832.3 231.0 L835.3 230.3 L838.3 229.6 L841.3 228.7 L844.3 227.8 L847.3 226.7 L850.3 225.5 L853.3 224.3 L856.3 222.9 L859.3 221.4 L862.3 219.9 L865.3 218.2 L868.3 216.5 L871.3 214.7 L874.3 212.8 L877.3 210.8 L880.3 208.8 L883.3 206.8 L886.3 204.8 L889.3 202.8 L892.3 200.8 L895.3 198.9 L898.3 197.1 L901.3 195.4 L904.3 193.8 L907.3 192.3 L910.3 190.8 L913.3 189.4 L916.3 188.0 L919.3 186.7 L922.3 185.4 L925.3 184.0 L928.3 182.6 L931.3 181.2 L934.3 179.9 L937.3 178.6 L940.3 177.3 L943.3 176.2 L946.3 175.2 L949.3 174.3 L952.3 173.7 L955.3 173.1 L958.3 172.3 L961.3 171.1 L964.3 169.5 L967.3 167.8 L970.3 166.2 L973.3 164.8 L976.3 163.5 L979.3 162.4 L982.3 161.4 L985.3 160.4 L988.3 159.6 L991.3 158.7 L994.3 158.0 L997.3 157.2 L1000.3 156.6 L1003.3 155.9 L1006.3 155.4 L1009.3 154.8 L1012.3 154.3 L1015.3 153.9 L1018.3 153.5 L1021.3 153.1 L1024.3 152.8 L1027.3 152.5 L1030.3 152.2 L1033.3 151.9 L1036.3 151.6 L1039.3 151.3 L1042.3 150.9 L1045.3 150.5 L1048.3 150.0 L1051.3 149.4 L1054.3 148.7 L1057.3 148.0 L1060.3 147.2 L1063.3 146.4 L1066.3 145.7 L1069.3 144.9 L1072.3 144.2 L1075.3 143.5 L1078.3 142.9 L1081.3 142.4 L1084.3 142.0 L1087.3 141.7 L1090.3 141.5 L1093.3 141.4 L1096.3 141.4 L1099.3 141.5 L1102.3 141.8 L1105.3 142.1 L1108.3 142.5 L1111.3 143.0 L1114.3 143.6 L1117.3 144.2 L1120.3 144.9 L1123.3 145.5 L1126.3 146.2 L1129.3 146.8 L1132.3 147.5 L1135.3 148.0 L1138.3 148.6 L1141.3 149.0 L1144.3 149.4 L1147.3 149.8 L1150.3 150.1 L1153.3 150.3 L1156.3 150.4 L1159.3 150.5 L1162.3 150.6 L1165.3 150.5 L1168.3 150.4 L1171.3 150.3 L1174.3 150.0 L1177.3 149.7 L1180.3 149.3 L1183.3 148.8 L1186.3 148.3 L1189.3 147.7 L1192.3 147.1 L1195.3 146.5 L1198.3 145.8 L1201.3 145.1 L1204.3 144.4 L1207.3 143.7 L1210.3 143.0 L1213.3 142.4 L1216.3 141.7 L1219.3 141.0 L1222.3 140.3 L1225.3 139.6 L1228.3 138.8 L1231.3 137.9 L1234.3 137.0 L1237.3 136.0 L1240.3 134.9 L1243.3 133.6 L1246.3 132.3 L1249.3 130.9 L1252.3 129.4 L1255.3 127.8 L1258.3 126.1 L1261.3 124.4 L1264.3 122.6 L1267.3 120.8 L1270.3 119.0 L1273.3 117.2 L1276.3 115.6 L1279.3 114.3 L1282.3 113.3 L1285.3 112.5 L1288.3 111.6 L1291.3 110.6 L1294.3 109.4 L1297.3 108.1 L1300.3 106.7 L1303.3 105.4 L1306.3 104.0 L1309.3 102.6 L1312.3 101.3 L1315.3 100.1 L1318.3 98.9 L1321.3 97.9 L1324.3 96.9 L1327.3 96.0 L1330.3 95.2 L1333.3 94.3 L1336.3 93.5 L1339.3 92.7 L1342.3 91.9 L1345.3 91.0 L1348.3 90.1 L1351.3 89.2 L1354.3 88.3 L1357.3 87.4 L1360.3 86.4 L1363.3 85.4 L1366.3 84.5 L1369.3 83.5 L1372.3 82.5 L1375.3 81.6 L1378.3 80.7 L1381.3 79.8 L1384.3 78.9 L1387.3 78.0 L1390.3 77.2 L1393.3 76.4 L1396.3 75.7 L1399.3 75.1 L1402.3 74.5 L1405.3 74.1 L1408.3 73.7 L1411.3 73.4 L1414.3 73.2 L1417.3 73.0 L1420.3 72.8 L1423.3 72.6 L1426.3 72.3 L1429.3 71.9 L1432.3 71.4 L1435.3 70.8 L1438.3 70.2 L1441.3 69.6 L1444.3 69.0 L1447.3 68.4 L1450.3 67.9 L1453.3 67.5 L1456.3 67.2 L1459.3 67.1 L1462.3 67.1 L1465.3 67.3 L1468.3 67.6 L1471.3 68.1 L1474.3 68.6 L1477.3 69.3 L1480.3 70.1 L1483.3 70.9 L1486.3 71.9 L1489.3 72.8 L1492.3 73.9 L1495.3 74.9 L1498.3 76.0 L1501.3 77.2 L1504.3 78.3 L1507.3 79.4 L1510.3 80.5 L1513.3 81.6 L1516.3 82.6 L1518.5 83.3" fill="none" stroke="#ff6d00" stroke-width="1.3" stroke-linejoin="round" stroke-linecap="round" />
<rect x="18" y="157" width="1" height="32" fill="#089981"/>
<rect x="16" y="172" width="5" height="9" fill="#089981"/>
<rect x="26" y="164" width="1" height="21" fill="#f23645"/>
<rect x="24" y="172" width="5" height="1" fill="#f23645"/>
<rect x="33" y="164" width="1" height="23" fill="#f23645"/>
<rect x="31" y="173" width="5" height="4" fill="#f23645"/>
<rect x="41" y="167" width="1" height="35" fill="#f23645"/>
<rect x="39" y="167" width="5" height="28" fill="#f23645"/>
<rect x="48" y="190" width="1" height="26" fill="#f23645"/>
<rect x="46" y="193" width="5" height="16" fill="#f23645"/>
<rect x="56" y="199" width="1" height="21" fill="#f23645"/>
<rect x="54" y="208" width="5" height="6" fill="#f23645"/>
<rect x="63" y="206" width="1" height="18" fill="#089981"/>
<rect x="61" y="210" width="5" height="4" fill="#089981"/>
<rect x="71" y="194" width="1" height="20" fill="#089981"/>
<rect x="69" y="201" width="5" height="10" fill="#089981"/>
<rect x="78" y="188" width="1" height="16" fill="#089981"/>
<rect x="76" y="194" width="5" height="10" fill="#089981"/>
<rect x="86" y="190" width="1" height="22" fill="#f23645"/>
<rect x="84" y="194" width="5" height="16" fill="#f23645"/>
<rect x="93" y="198" width="1" height="18" fill="#089981"/>
<rect x="91" y="206" width="5" height="5" fill="#089981"/>
<rect x="101" y="204" width="1" height="16" fill="#f23645"/>
<rect x="99" y="206" width="5" height="5" fill="#f23645"/>
<rect x="108" y="186" width="1" height="32" fill="#089981"/>
<rect x="106" y="194" width="5" height="17" fill="#089981"/>
<rect x="116" y="183" width="1" height="22" fill="#f23645"/>
<rect x="114" y="183" width="5" height="8" fill="#f23645"/>
<rect x="123" y="170" width="1" height="23" fill="#089981"/>
<rect x="121" y="175" width="5" height="16" fill="#089981"/>
<rect x="131" y="162" width="1" height="15" fill="#089981"/>
<rect x="129" y="171" width="5" height="5" fill="#089981"/>
<rect x="138" y="160" width="1" height="13" fill="#089981"/>
<rect x="136" y="163" width="5" height="9" fill="#089981"/>
<rect x="146" y="151" width="1" height="25" fill="#089981"/>
<rect x="144" y="161" width="5" height="3" fill="#089981"/>
<rect x="153" y="161" width="1" height="18" fill="#f23645"/>
<rect x="151" y="169" width="5" height="5" fill="#f23645"/>
<rect x="161" y="154" width="1" height="21" fill="#089981"/>
<rect x="159" y="166" width="5" height="8" fill="#089981"/>
<rect x="168" y="149" width="1" height="19" fill="#089981"/>
<rect x="166" y="155" width="5" height="12" fill="#089981"/>
<rect x="176" y="147" width="1" height="18" fill="#089981"/>
<rect x="174" y="152" width="5" height="4" fill="#089981"/>
<rect x="183" y="146" width="1" height="19" fill="#f23645"/>
<rect x="181" y="152" width="5" height="11" fill="#f23645"/>
<rect x="191" y="152" width="1" height="11" fill="#f23645"/>
<rect x="189" y="155" width="5" height="5" fill="#f23645"/>
<rect x="198" y="129" width="1" height="43" fill="#089981"/>
<rect x="196" y="132" width="5" height="28" fill="#089981"/>
<rect x="206" y="109" width="1" height="42" fill="#089981"/>
<rect x="204" y="124" width="5" height="9" fill="#089981"/>
<rect x="213" y="111" width="1" height="20" fill="#f23645"/>
<rect x="211" y="124" width="5" height="3" fill="#f23645"/>
<rect x="221" y="117" width="1" height="28" fill="#f23645"/>
<rect x="219" y="126" width="5" height="10" fill="#f23645"/>
<rect x="228" y="119" width="1" height="24" fill="#089981"/>
<rect x="226" y="120" width="5" height="19" fill="#089981"/>
<rect x="236" y="98" width="1" height="26" fill="#089981"/>
<rect x="234" y="104" width="5" height="17" fill="#089981"/>
<rect x="243" y="79" width="1" height="29" fill="#089981"/>
<rect x="241" y="85" width="5" height="20" fill="#089981"/>
<rect x="251" y="73" width="1" height="24" fill="#f23645"/>
<rect x="249" y="85" width="5" height="9" fill="#f23645"/>
<rect x="258" y="82" width="1" height="25" fill="#089981"/>
<rect x="256" y="93" width="5" height="1" fill="#089981"/>
<rect x="266" y="59" width="1" height="45" fill="#089981"/>
<rect x="264" y="62" width="5" height="42" fill="#089981"/>
<rect x="273" y="52" width="1" height="14" fill="#089981"/>
<rect x="271" y="56" width="5" height="7" fill="#089981"/>
<rect x="281" y="42" width="1" height="28" fill="#f23645"/>
<rect x="279" y="56" width="5" height="13" fill="#f23645"/>
<rect x="288" y="53" width="1" height="23" fill="#089981"/>
<rect x="286" y="63" width="5" height="6" fill="#089981"/>
<rect x="296" y="46" width="1" height="25" fill="#f23645"/>
<rect x="294" y="63" width="5" height="5" fill="#f23645"/>
<rect x="303" y="49" width="1" height="18" fill="#f23645"/>
<rect x="301" y="54" width="5" height="10" fill="#f23645"/>
<rect x="311" y="60" width="1" height="33" fill="#f23645"/>
<rect x="309" y="63" width="5" height="28" fill="#f23645"/>
<rect x="318" y="87" width="1" height="25" fill="#f23645"/>
<rect x="316" y="89" width="5" height="15" fill="#f23645"/>
<rect x="326" y="93" width="1" height="36" fill="#f23645"/>
<rect x="324" y="103" width="5" height="3" fill="#f23645"/>
<rect x="333" y="93" width="1" height="32" fill="#f23645"/>
<rect x="331" y="105" width="5" height="13" fill="#f23645"/>
<rect x="341" y="93" width="1" height="30" fill="#f23645"/>
<rect x="339" y="111" width="5" height="7" fill="#f23645"/>
<rect x="348" y="99" width="1" height="19" fill="#089981"/>
<rect x="346" y="111" width="5" height="7" fill="#089981"/>
<rect x="356" y="103" width="1" height="16" fill="#089981"/>
<rect x="354" y="107" width="5" height="5" fill="#089981"/>
<rect x="363" y="96" width="1" height="13" fill="#089981"/>
<rect x="361" y="106" width="5" height="1" fill="#089981"/>
<rect x="371" y="84" width="1" height="23" fill="#089981"/>
<rect x="369" y="99" width="5" height="8" fill="#089981"/>
<rect x="378" y="88" width="1" height="26" fill="#f23645"/>
<rect x="376" y="95" width="5" height="17" fill="#f23645"/>
<rect x="386" y="109" width="1" height="20" fill="#f23645"/>
<rect x="384" y="111" width="5" height="13" fill="#f23645"/>
<rect x="393" y="116" width="1" height="16" fill="#089981"/>
<rect x="391" y="118" width="5" height="6" fill="#089981"/>
<rect x="401" y="105" width="1" height="15" fill="#089981"/>
<rect x="399" y="115" width="5" height="4" fill="#089981"/>
<rect x="408" y="114" width="1" height="15" fill="#f23645"/>
<rect x="406" y="115" width="5" height="12" fill="#f23645"/>
<rect x="416" y="118" width="1" height="28" fill="#f23645"/>
<rect x="414" y="120" width="5" height="21" fill="#f23645"/>
<rect x="423" y="122" width="1" height="24" fill="#089981"/>
<rect x="421" y="124" width="5" height="16" fill="#089981"/>
<rect x="431" y="110" width="1" height="19" fill="#089981"/>
<rect x="429" y="124" width="5" height="1" fill="#089981"/>
<rect x="438" y="120" width="1" height="28" fill="#f23645"/>
<rect x="436" y="124" width="5" height="15" fill="#f23645"/>
<rect x="446" y="133" width="1" height="50" fill="#f23645"/>
<rect x="444" y="138" width="5" height="45" fill="#f23645"/>
<rect x="453" y="166" width="1" height="16" fill="#f23645"/>
<rect x="451" y="166" width="5" height="7" fill="#f23645"/>
<rect x="461" y="161" width="1" height="17" fill="#089981"/>
<rect x="459" y="169" width="5" height="4" fill="#089981"/>
<rect x="468" y="163" width="1" height="13" fill="#f23645"/>
<rect x="466" y="168" width="5" height="3" fill="#f23645"/>
<rect x="476" y="151" width="1" height="29" fill="#089981"/>
<rect x="474" y="152" width="5" height="19" fill="#089981"/>
<rect x="483" y="131" width="1" height="33" fill="#089981"/>
<rect x="481" y="131" width="5" height="22" fill="#089981"/>
<rect x="491" y="123" width="1" height="31" fill="#089981"/>
<rect x="489" y="139" width="5" height="2" fill="#089981"/>
<rect x="498" y="125" width="1" height="48" fill="#f23645"/>
<rect x="496" y="138" width="5" height="34" fill="#f23645"/>
<rect x="506" y="159" width="1" height="20" fill="#089981"/>
<rect x="504" y="170" width="5" height="1" fill="#089981"/>
<rect x="513" y="156" width="1" height="45" fill="#f23645"/>
<rect x="511" y="170" width="5" height="26" fill="#f23645"/>
<rect x="521" y="188" width="1" height="23" fill="#f23645"/>
<rect x="519" y="196" width="5" height="6" fill="#f23645"/>
<rect x="528" y="188" width="1" height="20" fill="#089981"/>
<rect x="526" y="197" width="5" height="8" fill="#089981"/>
<rect x="536" y="191" width="1" height="18" fill="#089981"/>
<rect x="534" y="196" width="5" height="1" fill="#089981"/>
<rect x="543" y="186" width="1" height="16" fill="#089981"/>
<rect x="541" y="192" width="5" height="5" fill="#089981"/>
<rect x="551" y="186" width="1" height="10" fill="#089981"/>
<rect x="549" y="188" width="5" height="6" fill="#089981"/>
<rect x="558" y="170" width="1" height="30" fill="#089981"/>
<rect x="556" y="182" width="5" height="7" fill="#089981"/>
<rect x="566" y="179" width="1" height="28" fill="#f23645"/>
<rect x="564" y="181" width="5" height="25" fill="#f23645"/>
<rect x="573" y="202" width="1" height="31" fill="#f23645"/>
<rect x="571" y="204" width="5" height="28" fill="#f23645"/>
<rect x="581" y="215" width="1" height="28" fill="#089981"/>
<rect x="579" y="223" width="5" height="9" fill="#089981"/>
<rect x="588" y="181" width="1" height="47" fill="#089981"/>
<rect x="586" y="182" width="5" height="41" fill="#089981"/>
<rect x="596" y="181" width="1" height="42" fill="#f23645"/>
<rect x="594" y="182" width="5" height="37" fill="#f23645"/>
<rect x="603" y="188" width="1" height="47" fill="#089981"/>
<rect x="601" y="193" width="5" height="7" fill="#089981"/>
<rect x="611" y="184" width="1" height="19" fill="#089981"/>
<rect x="609" y="192" width="5" height="1" fill="#089981"/>
<rect x="618" y="180" width="1" height="29" fill="#f23645"/>
<rect x="616" y="191" width="5" height="3" fill="#f23645"/>
<rect x="626" y="179" width="1" height="23" fill="#f23645"/>
<rect x="624" y="193" width="5" height="6" fill="#f23645"/>
<rect x="633" y="167" width="1" height="39" fill="#089981"/>
<rect x="631" y="167" width="5" height="32" fill="#089981"/>
<rect x="641" y="149" width="1" height="30" fill="#089981"/>
<rect x="639" y="156" width="5" height="20" fill="#089981"/>
<rect x="648" y="147" width="1" height="28" fill="#f23645"/>
<rect x="646" y="155" width="5" height="4" fill="#f23645"/>
<rect x="656" y="147" width="1" height="40" fill="#f23645"/>
<rect x="654" y="156" width="5" height="30" fill="#f23645"/>
<rect x="663" y="169" width="1" height="59" fill="#f23645"/>
<rect x="661" y="185" width="5" height="34" fill="#f23645"/>
<rect x="671" y="208" width="1" height="21" fill="#f23645"/>
<rect x="669" y="218" width="5" height="5" fill="#f23645"/>
<rect x="678" y="206" width="1" height="16" fill="#089981"/>
<rect x="676" y="214" width="5" height="8" fill="#089981"/>
<rect x="686" y="208" width="1" height="19" fill="#f23645"/>
<rect x="684" y="213" width="5" height="9" fill="#f23645"/>
<rect x="693" y="210" width="1" height="14" fill="#089981"/>
<rect x="691" y="211" width="5" height="10" fill="#089981"/>
<rect x="701" y="209" width="1" height="20" fill="#f23645"/>
<rect x="699" y="211" width="5" height="18" fill="#f23645"/>
<rect x="708" y="218" width="1" height="33" fill="#f23645"/>
<rect x="706" y="228" width="5" height="14" fill="#f23645"/>
<rect x="716" y="224" width="1" height="24" fill="#089981"/>
<rect x="714" y="240" width="5" height="8" fill="#089981"/>
<rect x="723" y="231" width="1" height="26" fill="#f23645"/>
<rect x="721" y="242" width="5" height="3" fill="#f23645"/>
<rect x="731" y="236" width="1" height="28" fill="#f23645"/>
<rect x="729" y="240" width="5" height="22" fill="#f23645"/>
<rect x="738" y="259" width="1" height="20" fill="#f23645"/>
<rect x="736" y="261" width="5" height="4" fill="#f23645"/>
<rect x="746" y="248" width="1" height="27" fill="#089981"/>
<rect x="744" y="249" width="5" height="17" fill="#089981"/>
<rect x="753" y="245" width="1" height="12" fill="#f23645"/>
<rect x="751" y="252" width="5" height="3" fill="#f23645"/>
<rect x="761" y="254" width="1" height="23" fill="#f23645"/>
<rect x="759" y="254" width="5" height="12" fill="#f23645"/>
<rect x="768" y="242" width="1" height="33" fill="#089981"/>
<rect x="766" y="249" width="5" height="17" fill="#089981"/>
<rect x="776" y="238" width="1" height="16" fill="#089981"/>
<rect x="774" y="244" width="5" height="6" fill="#089981"/>
<rect x="783" y="212" width="1" height="40" fill="#089981"/>
<rect x="781" y="231" width="5" height="14" fill="#089981"/>
<rect x="791" y="202" width="1" height="39" fill="#089981"/>
<rect x="789" y="214" width="5" height="24" fill="#089981"/>
<rect x="798" y="208" width="1" height="16" fill="#f23645"/>
<rect x="796" y="213" width="5" height="1" fill="#f23645"/>
<rect x="806" y="193" width="1" height="24" fill="#089981"/>
<rect x="804" y="203" width="5" height="12" fill="#089981"/>
<rect x="813" y="191" width="1" height="25" fill="#089981"/>
<rect x="811" y="200" width="5" height="3" fill="#089981"/>
<rect x="821" y="193" width="1" height="27" fill="#f23645"/>
<rect x="819" y="200" width="5" height="17" fill="#f23645"/>
<rect x="828" y="208" width="1" height="20" fill="#089981"/>
<rect x="826" y="214" width="5" height="2" fill="#089981"/>
<rect x="836" y="176" width="1" height="41" fill="#089981"/>
<rect x="834" y="180" width="5" height="35" fill="#089981"/>
<rect x="843" y="156" width="1" height="27" fill="#089981"/>
<rect x="841" y="164" width="5" height="16" fill="#089981"/>
<rect x="851" y="157" width="1" height="21" fill="#089981"/>
<rect x="849" y="166" width="5" height="1" fill="#089981"/>
<rect x="858" y="164" width="1" height="14" fill="#f23645"/>
<rect x="856" y="166" width="5" height="5" fill="#f23645"/>
<rect x="866" y="158" width="1" height="20" fill="#089981"/>
<rect x="864" y="164" width="5" height="9" fill="#089981"/>
<rect x="873" y="152" width="1" height="21" fill="#089981"/>
<rect x="871" y="159" width="5" height="6" fill="#089981"/>
<rect x="881" y="143" width="1" height="26" fill="#089981"/>
<rect x="879" y="155" width="5" height="5" fill="#089981"/>
<rect x="888" y="149" width="1" height="13" fill="#089981"/>
<rect x="886" y="155" width="5" height="2" fill="#089981"/>
<rect x="896" y="152" width="1" height="20" fill="#f23645"/>
<rect x="894" y="156" width="5" height="6" fill="#f23645"/>
<rect x="903" y="159" width="1" height="20" fill="#f23645"/>
<rect x="901" y="167" width="5" height="12" fill="#f23645"/>
<rect x="911" y="173" width="1" height="17" fill="#f23645"/>
<rect x="909" y="177" width="5" height="8" fill="#f23645"/>
<rect x="918" y="164" width="1" height="27" fill="#089981"/>
<rect x="916" y="166" width="5" height="17" fill="#089981"/>
<rect x="926" y="164" width="1" height="25" fill="#f23645"/>
<rect x="924" y="167" width="5" height="19" fill="#f23645"/>
<rect x="933" y="164" width="1" height="33" fill="#089981"/>
<rect x="931" y="164" width="5" height="21" fill="#089981"/>
<rect x="941" y="143" width="1" height="28" fill="#089981"/>
<rect x="939" y="151" width="5" height="20" fill="#089981"/>
<rect x="948" y="147" width="1" height="25" fill="#f23645"/>
<rect x="946" y="150" width="5" height="19" fill="#f23645"/>
<rect x="956" y="160" width="1" height="17" fill="#089981"/>
<rect x="954" y="164" width="5" height="2" fill="#089981"/>
<rect x="963" y="139" width="1" height="30" fill="#089981"/>
<rect x="961" y="146" width="5" height="21" fill="#089981"/>
<rect x="971" y="136" width="1" height="14" fill="#089981"/>
<rect x="969" y="140" width="5" height="8" fill="#089981"/>
<rect x="978" y="138" width="1" height="11" fill="#f23645"/>
<rect x="976" y="142" width="5" height="3" fill="#f23645"/>
<rect x="986" y="128" width="1" height="33" fill="#089981"/>
<rect x="984" y="128" width="5" height="17" fill="#089981"/>
<rect x="993" y="119" width="1" height="14" fill="#f23645"/>
<rect x="991" y="128" width="5" height="1" fill="#f23645"/>
<rect x="1001" y="120" width="1" height="15" fill="#f23645"/>
<rect x="999" y="131" width="5" height="3" fill="#f23645"/>
<rect x="1008" y="122" width="1" height="17" fill="#f23645"/>
<rect x="1006" y="133" width="5" height="3" fill="#f23645"/>
<rect x="1016" y="124" width="1" height="19" fill="#f23645"/>
<rect x="1014" y="124" width="5" height="12" fill="#f23645"/>
<rect x="1023" y="120" width="1" height="20" fill="#f23645"/>
<rect x="1021" y="133" width="5" height="5" fill="#f23645"/>
<rect x="1031" y="129" width="1" height="22" fill="#f23645"/>
<rect x="1029" y="139" width="5" height="9" fill="#f23645"/>
<rect x="1038" y="135" width="1" height="20" fill="#089981"/>
<rect x="1036" y="142" width="5" height="5" fill="#089981"/>
<rect x="1046" y="124" width="1" height="19" fill="#089981"/>
<rect x="1044" y="138" width="5" height="4" fill="#089981"/>
<rect x="1053" y="132" width="1" height="16" fill="#f23645"/>
<rect x="1051" y="132" width="5" height="9" fill="#f23645"/>
<rect x="1061" y="136" width="1" height="16" fill="#f23645"/>
<rect x="1059" y="138" width="5" height="6" fill="#f23645"/>
<rect x="1068" y="127" width="1" height="22" fill="#089981"/>
<rect x="1066" y="138" width="5" height="6" fill="#089981"/>
<rect x="1076" y="132" width="1" height="20" fill="#f23645"/>
<rect x="1074" y="138" width="5" height="4" fill="#f23645"/>
<rect x="1083" y="134" width="1" height="17" fill="#f23645"/>
<rect x="1081" y="141" width="5" height="10" fill="#f23645"/>
<rect x="1091" y="139" width="1" height="17" fill="#f23645"/>
<rect x="1089" y="139" width="5" height="16" fill="#f23645"/>
<rect x="1098" y="143" width="1" height="13" fill="#089981"/>
<rect x="1096" y="147" width="5" height="9" fill="#089981"/>
<rect x="1106" y="142" width="1" height="25" fill="#f23645"/>
<rect x="1104" y="149" width="5" height="16" fill="#f23645"/>
<rect x="1113" y="161" width="1" height="11" fill="#f23645"/>
<rect x="1111" y="164" width="5" height="5" fill="#f23645"/>
<rect x="1121" y="166" width="1" height="22" fill="#f23645"/>
<rect x="1119" y="169" width="5" height="12" fill="#f23645"/>
<rect x="1128" y="170" width="1" height="14" fill="#089981"/>
<rect x="1126" y="177" width="5" height="1" fill="#089981"/>
<rect x="1136" y="150" width="1" height="30" fill="#089981"/>
<rect x="1134" y="154" width="5" height="24" fill="#089981"/>
<rect x="1143" y="152" width="1" height="16" fill="#f23645"/>
<rect x="1141" y="154" width="5" height="9" fill="#f23645"/>
<rect x="1151" y="149" width="1" height="17" fill="#089981"/>
<rect x="1149" y="150" width="5" height="13" fill="#089981"/>
<rect x="1158" y="140" width="1" height="17" fill="#089981"/>
<rect x="1156" y="143" width="5" height="8" fill="#089981"/>
<rect x="1166" y="133" width="1" height="13" fill="#089981"/>
<rect x="1164" y="136" width="5" height="8" fill="#089981"/>
<rect x="1173" y="124" width="1" height="16" fill="#089981"/>
<rect x="1171" y="129" width="5" height="8" fill="#089981"/>
<rect x="1181" y="111" width="1" height="28" fill="#f23645"/>
<rect x="1179" y="129" width="5" height="9" fill="#f23645"/>
<rect x="1188" y="109" width="1" height="35" fill="#089981"/>
<rect x="1186" y="111" width="5" height="27" fill="#089981"/>
<rect x="1196" y="98" width="1" height="25" fill="#089981"/>
<rect x="1194" y="108" width="5" height="3" fill="#089981"/>
<rect x="1203" y="99" width="1" height="19" fill="#089981"/>
<rect x="1201" y="108" width="5" height="6" fill="#089981"/>
<rect x="1211" y="102" width="1" height="15" fill="#f23645"/>
<rect x="1209" y="108" width="5" height="4" fill="#f23645"/>
<rect x="1218" y="96" width="1" height="16" fill="#089981"/>
<rect x="1216" y="107" width="5" height="5" fill="#089981"/>
<rect x="1226" y="94" width="1" height="15" fill="#089981"/>
<rect x="1224" y="101" width="5" height="7" fill="#089981"/>
<rect x="1233" y="95" width="1" height="19" fill="#f23645"/>
<rect x="1231" y="101" width="5" height="11" fill="#f23645"/>
<rect x="1241" y="88" width="1" height="24" fill="#089981"/>
<rect x="1239" y="89" width="5" height="23" fill="#089981"/>
<rect x="1248" y="82" width="1" height="18" fill="#089981"/>
<rect x="1246" y="88" width="5" height="1" fill="#089981"/>
<rect x="1256" y="78" width="1" height="16" fill="#089981"/>
<rect x="1254" y="91" width="5" height="3" fill="#089981"/>
<rect x="1263" y="78" width="1" height="15" fill="#089981"/>
<rect x="1261" y="82" width="5" height="10" fill="#089981"/>
<rect x="1271" y="72" width="1" height="27" fill="#f23645"/>
<rect x="1269" y="82" width="5" height="17" fill="#f23645"/>
<rect x="1278" y="75" width="1" height="18" fill="#f23645"/>
<rect x="1276" y="78" width="5" height="5" fill="#f23645"/>
<rect x="1286" y="79" width="1" height="37" fill="#f23645"/>
<rect x="1284" y="82" width="5" height="30" fill="#f23645"/>
<rect x="1293" y="79" width="1" height="38" fill="#089981"/>
<rect x="1291" y="86" width="5" height="26" fill="#089981"/>
<rect x="1301" y="76" width="1" height="28" fill="#f23645"/>
<rect x="1299" y="85" width="5" height="15" fill="#f23645"/>
<rect x="1308" y="82" width="1" height="29" fill="#089981"/>
<rect x="1306" y="87" width="5" height="13" fill="#089981"/>
<rect x="1316" y="72" width="1" height="26" fill="#089981"/>
<rect x="1314" y="79" width="5" height="19" fill="#089981"/>
<rect x="1323" y="70" width="1" height="23" fill="#f23645"/>
<rect x="1321" y="81" width="5" height="2" fill="#f23645"/>
<rect x="1331" y="67" width="1" height="22" fill="#089981"/>
<rect x="1329" y="76" width="5" height="7" fill="#089981"/>
<rect x="1338" y="72" width="1" height="13" fill="#089981"/>
<rect x="1336" y="72" width="5" height="6" fill="#089981"/>
<rect x="1346" y="64" width="1" height="13" fill="#f23645"/>
<rect x="1344" y="72" width="5" height="2" fill="#f23645"/>
<rect x="1353" y="52" width="1" height="24" fill="#089981"/>
<rect x="1351" y="55" width="5" height="17" fill="#089981"/>
<rect x="1361" y="51" width="1" height="19" fill="#f23645"/>
<rect x="1359" y="55" width="5" height="11" fill="#f23645"/>
<rect x="1368" y="52" width="1" height="21" fill="#089981"/>
<rect x="1366" y="53" width="5" height="13" fill="#089981"/>
<rect x="1376" y="46" width="1" height="17" fill="#f23645"/>
<rect x="1374" y="53" width="5" height="6" fill="#f23645"/>
<rect x="1383" y="55" width="1" height="14" fill="#f23645"/>
<rect x="1381" y="58" width="5" height="3" fill="#f23645"/>
<rect x="1391" y="53" width="1" height="12" fill="#089981"/>
<rect x="1389" y="61" width="5" height="4" fill="#089981"/>
<rect x="1398" y="44" width="1" height="19" fill="#089981"/>
<rect x="1396" y="47" width="5" height="15" fill="#089981"/>
<rect x="1406" y="42" width="1" height="24" fill="#f23645"/>
<rect x="1404" y="47" width="5" height="8" fill="#f23645"/>
<rect x="1413" y="54" width="1" height="23" fill="#f23645"/>
<rect x="1411" y="54" width="5" height="20" fill="#f23645"/>
<rect x="1421" y="68" width="1" height="33" fill="#f23645"/>
<rect x="1419" y="76" width="5" height="6" fill="#f23645"/>
<rect x="1428" y="74" width="1" height="12" fill="#f23645"/>
<rect x="1426" y="75" width="5" height="6" fill="#f23645"/>
<rect x="1436" y="66" width="1" height="16" fill="#089981"/>
<rect x="1434" y="68" width="5" height="13" fill="#089981"/>
<rect x="1443" y="58" width="1" height="21" fill="#089981"/>
<rect x="1441" y="66" width="5" height="3" fill="#089981"/>
<rect x="1451" y="61" width="1" height="21" fill="#f23645"/>
<rect x="1449" y="66" width="5" height="16" fill="#f23645"/>
<rect x="1458" y="71" width="1" height="17" fill="#089981"/>
<rect x="1456" y="78" width="5" height="3" fill="#089981"/>
<rect x="1466" y="72" width="1" height="19" fill="#089981"/>
<rect x="1464" y="77" width="5" height="3" fill="#089981"/>
<rect x="1473" y="73" width="1" height="22" fill="#f23645"/>
<rect x="1471" y="77" width="5" height="16" fill="#f23645"/>
<rect x="1481" y="89" width="1" height="23" fill="#f23645"/>
<rect x="1479" y="92" width="5" height="20" fill="#f23645"/>
<rect x="1488" y="107" width="1" height="26" fill="#f23645"/>
<rect x="1486" y="109" width="5" height="11" fill="#f23645"/>
<rect x="1496" y="111" width="1" height="21" fill="#f23645"/>
<rect x="1494" y="119" width="5" height="5" fill="#f23645"/>
<rect x="1503" y="111" width="1" height="36" fill="#f23645"/>
<rect x="1501" y="120" width="5" height="9" fill="#f23645"/>
<rect x="1511" y="104" width="1" height="27" fill="#089981"/>
<rect x="1509" y="107" width="5" height="22" fill="#089981"/>
<rect x="1518" y="96" width="1" height="17" fill="#089981"/>
<rect x="1516" y="99" width="5" height="9" fill="#089981"/>
<line x1="13" y1="99.5" x2="1597" y2="99.5" stroke="#089981" stroke-width="1" stroke-dasharray="1 2"/>
<path d="M13.5 348.0 L18.5 344.8 L26.0 345.9 L33.5 350.6 L41.0 371.3 L48.5 384.2 L56.0 388.3 L63.5 385.7 L71.0 377.1 L78.5 371.7 L86.0 386.8 L93.5 383.5 L101.0 387.8 L108.5 373.2 L116.0 369.5 L123.5 357.3 L131.0 354.5 L138.5 349.1 L146.0 347.4 L153.5 363.1 L161.0 357.3 L168.5 349.8 L176.0 347.4 L183.5 360.9 L191.0 358.8 L198.5 339.4 L206.0 335.1 L213.5 338.3 L221.0 349.5 L228.5 339.4 L236.0 330.8 L243.5 323.3 L251.0 334.0 L258.5 334.0 L266.0 320.5 L273.5 318.3 L281.0 333.0 L288.5 330.8 L296.0 335.6 L303.5 333.6 L311.0 365.2 L318.5 377.6 L326.0 379.7 L333.5 389.3 L341.0 389.6 L348.5 384.2 L356.0 379.9 L363.5 379.4 L371.0 372.3 L378.5 386.8 L386.0 397.9 L393.5 392.8 L401.0 389.3 L408.5 400.3 L416.0 411.9 L423.5 394.7 L431.0 394.7 L438.5 407.2 L446.0 434.7 L453.5 424.4 L461.0 421.2 L468.5 422.3 L476.0 402.9 L483.5 385.0 L491.0 391.1 L498.5 412.1 L506.0 411.5 L513.5 425.1 L521.0 428.1 L528.5 423.8 L536.0 422.3 L543.5 418.4 L551.0 413.6 L558.5 407.2 L566.0 422.3 L573.5 435.8 L581.0 427.2 L588.5 393.2 L596.0 412.1 L603.5 396.2 L611.0 395.8 L618.5 397.0 L626.0 399.2 L633.5 379.2 L641.0 373.0 L648.5 374.1 L656.0 392.1 L663.5 409.8 L671.0 411.5 L678.5 405.3 L686.0 409.1 L693.5 402.0 L701.0 411.1 L708.5 417.5 L716.0 416.9 L723.5 419.0 L731.0 427.2 L738.5 429.1 L746.0 414.5 L753.5 416.9 L761.0 423.5 L768.5 408.7 L776.0 404.0 L783.5 392.1 L791.0 379.9 L798.5 380.3 L806.0 372.6 L813.5 370.2 L821.0 384.2 L828.5 382.5 L836.0 359.2 L843.5 350.6 L851.0 352.3 L858.5 356.6 L866.0 353.0 L873.5 350.2 L881.0 347.6 L888.5 347.6 L896.0 356.0 L903.5 374.5 L911.0 380.7 L918.5 366.3 L926.0 384.2 L933.5 368.9 L941.0 360.5 L948.5 375.6 L956.0 372.6 L963.5 361.4 L971.0 357.3 L978.5 362.0 L986.0 352.1 L993.5 352.3 L1001.0 357.7 L1008.5 359.0 L1016.0 359.0 L1023.5 362.0 L1031.0 374.9 L1038.5 369.5 L1046.0 366.5 L1053.5 368.7 L1061.0 373.8 L1068.5 368.3 L1076.0 372.8 L1083.5 384.6 L1091.0 390.0 L1098.5 380.7 L1106.0 401.2 L1113.5 405.7 L1121.0 417.5 L1128.5 413.2 L1136.0 383.7 L1143.5 392.1 L1151.0 380.3 L1158.5 372.8 L1166.0 366.7 L1173.5 360.7 L1181.0 370.6 L1188.5 350.6 L1196.0 349.1 L1203.5 349.1 L1211.0 352.4 L1218.5 348.9 L1226.0 344.8 L1233.5 359.0 L1241.0 342.9 L1248.5 342.7 L1256.0 345.7 L1263.5 339.9 L1271.0 362.7 L1278.5 350.6 L1286.0 381.2 L1293.5 364.0 L1301.0 375.6 L1308.5 367.4 L1316.0 362.7 L1323.5 365.0 L1331.0 361.4 L1338.5 358.6 L1346.0 359.6 L1353.5 347.8 L1361.0 359.0 L1368.5 351.5 L1376.0 357.1 L1383.5 359.2 L1391.0 360.7 L1398.5 350.6 L1406.0 359.0 L1413.5 380.3 L1421.0 387.4 L1428.5 387.0 L1436.0 375.4 L1443.5 373.6 L1451.0 389.3 L1458.5 386.3 L1466.0 385.7 L1473.5 401.4 L1481.0 416.4 L1488.5 421.8 L1496.0 425.1 L1503.5 428.7 L1511.0 402.2 L1518.5 393.9" fill="none" stroke="#7e57c2" stroke-width="1.3" stroke-linejoin="round" stroke-linecap="round" />
<path d="M13.1 512.4 L18.5 507.7 L26.0 503.4 L33.5 501.6 L41.0 503.8 L48.6 507.7 L55.9 512.4 L63.4 515.2 L71.0 516.3 L78.5 516.3 L86.0 518.8 L93.5 521.4 L101.1 523.1 L108.4 522.5 L115.9 521.0 L123.4 516.7 L131.0 513.5 L138.5 509.8 L146.0 507.4 L153.6 507.7 L160.9 506.6 L168.4 504.2 L175.9 502.3 L183.5 502.7 L191.0 503.4 L198.5 499.1 L206.1 494.8 L213.4 492.6 L220.9 492.4 L228.4 490.4 L236.0 486.6 L243.5 481.2 L251.0 478.4 L258.6 477.3 L265.9 471.1 L273.4 465.5 L280.9 464.6 L288.5 464.2 L296.0 465.1 L303.5 467.2 L311.1 472.6 L318.4 479.0 L325.9 486.6 L333.5 494.8 L341.0 501.6 L348.5 506.6 L356.0 509.8 L363.6 512.4 L370.9 513.5 L378.4 517.1 L385.9 522.1 L393.5 524.9 L401.0 527.0 L408.5 530.7 L416.1 536.1 L423.4 537.1 L430.9 537.8 L438.4 541.4 L446.0 552.2 L453.5 557.6 L461.0 561.4 L468.6 564.5 L475.9 563.0 L483.4 558.2 L490.9 555.4 L498.5 558.6 L506.0 560.8 L513.5 566.6 L521.1 572.0 L528.4 574.8 L535.9 576.3 L543.4 576.3 L551.0 575.2 L558.5 572.6 L566.0 574.4 L573.6 580.2 L581.1 582.3 L588.4 576.5 L595.9 577.4 L603.5 573.7 L611.1 569.4 L618.4 566.8 L625.9 565.3 L633.5 557.6 L641.0 549.4 L648.5 543.6 L656.0 543.6 L663.6 550.0 L670.9 554.8 L678.4 556.9 L685.9 559.3 L693.5 559.7 L701.0 562.5 L708.5 566.8 L716.1 569.4 L723.4 572.0 L730.9 575.9 L738.4 579.5 L746.0 579.3 L753.5 579.1 L761.0 580.6 L768.6 578.7 L775.9 575.9 L783.4 570.5 L790.9 562.5 L798.5 556.1 L806.0 549.4 L813.5 543.6 L821.1 541.4 L828.4 539.3 L835.9 530.7 L843.4 522.1 L851.0 515.6 L858.5 511.3 L866.0 507.7 L873.6 504.2 L881.1 501.2 L888.4 499.1 L895.9 499.1 L903.5 502.3 L911.1 506.4 L918.4 506.4 L925.9 510.2 L933.5 510.2 L941.0 507.4 L948.5 508.7 L956.0 509.6 L963.6 507.7 L970.9 504.4 L978.4 503.8 L985.9 501.0 L993.5 498.6 L1001.0 498.4 L1008.5 498.6 L1016.1 499.5 L1023.4 500.8 L1030.9 504.2 L1038.4 506.4 L1046.0 507.7 L1053.5 509.6 L1061.0 511.7 L1068.6 512.4 L1075.9 514.1 L1083.4 517.1 L1090.9 520.4 L1098.5 521.6 L1106.0 525.7 L1113.5 530.7 L1121.1 536.1 L1128.4 538.6 L1135.9 537.8 L1143.4 537.8 L1151.0 536.1 L1158.5 533.3 L1166.0 529.6 L1173.6 526.4 L1181.1 525.3 L1188.4 519.3 L1195.9 514.5 L1203.5 511.3 L1211.1 509.4 L1218.4 507.0 L1225.9 505.3 L1233.5 505.5 L1241.0 502.3 L1248.5 499.9 L1256.0 498.8 L1263.6 497.1 L1270.9 498.8 L1278.4 497.8 L1285.9 502.3 L1293.5 502.3 L1301.0 504.9 L1308.5 504.9 L1316.1 503.8 L1323.4 503.8 L1330.9 502.7 L1338.4 502.3 L1346.0 502.3 L1353.5 499.5 L1361.0 499.1 L1368.6 497.3 L1375.9 497.3 L1383.4 497.8 L1390.9 499.1 L1398.5 498.4 L1406.0 499.1 L1413.5 503.8 L1421.1 508.7 L1428.4 512.8 L1435.9 513.7 L1443.4 514.5 L1451.0 518.4 L1458.5 521.0 L1466.0 523.1 L1473.6 527.0 L1481.1 533.9 L1488.4 540.4 L1495.9 546.4 L1503.5 551.5 L1511.0 552.2 L1518.5 550.5" fill="none" stroke="#2196f3" stroke-width="1.3" stroke-linejoin="round" stroke-linecap="round" />
<path d="M13.1 531.8 L18.5 528.5 L26.0 523.1 L33.5 518.4 L41.0 515.6 L48.6 514.3 L55.9 514.1 L63.4 514.1 L71.0 514.5 L78.5 515.0 L86.0 516.3 L93.5 517.3 L101.1 518.4 L108.4 519.3 L115.9 519.3 L123.4 518.8 L131.0 517.3 L138.5 515.6 L146.0 514.1 L153.6 512.8 L160.9 511.3 L168.4 509.8 L175.9 508.5 L183.5 507.4 L191.0 507.0 L198.5 505.3 L206.1 503.1 L213.4 501.2 L220.9 499.5 L228.4 497.3 L236.0 495.2 L243.5 492.0 L251.0 489.2 L258.6 486.6 L265.9 483.3 L273.4 479.5 L280.9 476.2 L288.5 473.2 L296.0 471.5 L303.5 470.9 L311.1 471.1 L318.4 473.7 L325.9 476.2 L333.5 480.1 L341.0 484.4 L348.5 489.2 L356.0 493.5 L363.6 497.3 L370.9 501.0 L378.4 504.2 L385.9 508.1 L393.5 511.3 L401.0 514.5 L408.5 517.8 L416.1 521.4 L423.4 524.7 L430.9 527.5 L438.4 530.2 L446.0 534.6 L453.5 539.3 L461.0 543.6 L468.6 547.9 L475.9 550.7 L483.4 551.8 L490.9 552.8 L498.5 553.9 L506.0 555.4 L513.5 558.0 L521.1 560.8 L528.4 563.6 L535.9 566.2 L543.4 567.9 L551.0 569.4 L558.5 570.1 L566.0 571.1 L573.6 573.1 L581.1 574.8 L588.4 575.2 L595.9 575.4 L603.5 575.2 L611.1 574.1 L618.4 572.6 L625.9 570.9 L633.5 568.3 L641.0 564.5 L648.5 560.4 L656.0 556.9 L663.6 555.4 L670.9 555.4 L678.4 555.9 L685.9 556.5 L693.5 557.1 L701.0 558.6 L708.5 560.4 L716.1 562.5 L723.4 565.1 L730.9 567.9 L738.4 570.5 L746.0 572.2 L753.5 573.7 L761.0 574.8 L768.6 575.2 L775.9 575.2 L783.4 574.4 L790.9 572.2 L798.5 569.0 L806.0 565.1 L813.5 560.8 L821.1 556.9 L828.4 553.3 L835.9 549.0 L843.4 543.6 L851.0 538.2 L858.5 532.2 L866.0 527.0 L873.6 522.1 L881.1 517.8 L888.4 514.1 L895.9 511.3 L903.5 509.6 L911.1 509.2 L918.4 508.5 L925.9 508.7 L933.5 509.2 L941.0 508.5 L948.5 508.5 L956.0 508.7 L963.6 508.5 L970.9 507.7 L978.4 507.0 L985.9 505.5 L993.5 504.2 L1001.0 503.1 L1008.5 502.1 L1016.1 501.6 L1023.4 501.4 L1030.9 502.1 L1038.4 502.9 L1046.0 503.8 L1053.5 504.9 L1061.0 506.4 L1068.6 507.4 L1075.9 508.7 L1083.4 510.5 L1090.9 512.4 L1098.5 514.5 L1106.0 516.7 L1113.5 519.5 L1121.1 523.1 L1128.4 526.4 L1135.9 529.0 L1143.4 530.7 L1151.0 531.8 L1158.5 532.0 L1166.0 531.3 L1173.6 530.2 L1181.1 529.2 L1188.4 527.5 L1195.9 524.9 L1203.5 522.1 L1211.1 519.9 L1218.4 517.3 L1225.9 514.5 L1233.5 512.4 L1241.0 510.2 L1248.5 508.1 L1256.0 505.9 L1263.6 504.2 L1270.9 503.1 L1278.4 502.3 L1285.9 502.3 L1293.5 502.3 L1301.0 502.9 L1308.5 503.4 L1316.1 503.4 L1323.4 503.6 L1330.9 503.4 L1338.4 503.1 L1346.0 502.9 L1353.5 502.3 L1361.0 501.6 L1368.6 500.8 L1375.9 500.3 L1383.4 499.9 L1390.9 499.7 L1398.5 499.5 L1406.0 499.5 L1413.5 500.3 L1421.1 502.1 L1428.4 504.4 L1435.9 506.6 L1443.4 508.5 L1451.0 510.7 L1458.5 512.8 L1466.0 515.0 L1473.6 517.8 L1481.1 521.4 L1488.4 525.7 L1495.9 530.2 L1503.5 534.6 L1511.0 537.8 L1518.5 539.9" fill="none" stroke="#ff6d00" stroke-width="1.3" stroke-linejoin="round" stroke-linecap="round" />
<rect x="14" y="303" width="1648" height="1" fill="#e0e3eb"/>
<rect x="14" y="449" width="1648" height="1" fill="#e0e3eb"/>
<rect x="13" y="13" width="1649" height="617" fill="none" stroke="#e9ebf1" stroke-width="2"/>
<path d="M1597 67 H1649 a2 2 0 0 1 2 2 V86 a2 2 0 0 1 -2 2 H1597 Z" fill="#ff6d00"/>
<path d="M1597 89 H1649 a2 2 0 0 1 2 2 V108 a2 2 0 0 1 -2 2 H1597 Z" fill="#089981"/>
<path d="M1597 118 H1649 a2 2 0 0 1 2 2 V137 a2 2 0 0 1 -2 2 H1597 Z" fill="#2196f3"/>
<path d="M1597 139 H1649 a2 2 0 0 1 2 2 V158 a2 2 0 0 1 -2 2 H1597 Z" fill="#26c6da"/>
<path d="M1597 384 H1649 a2 2 0 0 1 2 2 V403 a2 2 0 0 1 -2 2 H1597 Z" fill="#7e57c2"/>
<path d="M1597 514 H1649 a2 2 0 0 1 2 2 V533 a2 2 0 0 1 -2 2 H1597 Z" fill="#ff6d00"/>
<path d="M1597 535 H1649 a2 2 0 0 1 2 2 V554 a2 2 0 0 1 -2 2 H1597 Z" fill="#ffcdd2"/>
<path d="M1597 557 H1649 a2 2 0 0 1 2 2 V576 a2 2 0 0 1 -2 2 H1597 Z" fill="#2196f3"/>
<g fill="#131722"><path d="M13 646 H23 V657.7 H17.6 V651.4 H13 Z"/><circle cx="26.6" cy="648.4" r="2.5"/><path d="M30.6 646 H37.3 L32.8 657.7 H26.6 Z"/></g>
</svg>
<div class="t" style="left:1606.84px;top:54px;font-size:16px;color:#131722;transform:scaleX(0.9282);">37.00</div>
<div class="t" style="left:1606.84px;top:204px;font-size:16px;color:#131722;transform:scaleX(0.9282);">35.00</div>
<div class="t" style="left:1606.84px;top:278px;font-size:16px;color:#131722;transform:scaleX(0.9282);">34.00</div>
<div class="t" style="left:1606.6px;top:309px;font-size:16px;color:#131722;transform:scaleX(0.9342);">80.00</div>
<div class="t" style="left:1606.6px;top:357px;font-size:16px;color:#131722;transform:scaleX(0.9342);">60.00</div>
<div class="t" style="left:1607.07px;top:405px;font-size:16px;color:#131722;transform:scaleX(0.9223);">40.00</div>
<div class="t" style="left:1606.72px;top:447px;font-size:16px;color:#131722;transform:scaleX(0.97);clip-path:inset(2.6px 0 0 0);">0.50</div>
<div class="t" style="left:1606.84px;top:71px;font-size:16px;color:#ffffff;transform:scaleX(0.9282);">36.70</div>
<div class="t" style="left:1606.83px;top:93px;font-size:16px;color:#ffffff;transform:scaleX(0.9342);">36.49</div>
<div class="t" style="left:1606.83px;top:122px;font-size:16px;color:#ffffff;transform:scaleX(0.9342);">36.09</div>
<div class="t" style="left:1606.84px;top:143px;font-size:16px;color:#131722;transform:scaleX(0.9282);">35.84</div>
<div class="t" style="left:1607.07px;top:388px;font-size:16px;color:#ffffff;transform:scaleX(0.9282);">47.17</div>
<div class="t" style="left:1606.6px;top:518px;font-size:16px;color:#ffffff;transform:scaleX(0.9282);">−0.03</div>
<div class="t" style="left:1606.6px;top:539px;font-size:16px;color:#131722;transform:scaleX(0.9282);">−0.07</div>
<div class="t" style="left:1606.61px;top:561px;font-size:16px;color:#ffffff;transform:scaleX(0.9223);">−0.10</div>
<div class="t" style="left:95.65px;top:606px;font-size:16px;color:#131722;transform:scaleX(0.8667);">Sep</div>
<div class="t" style="left:253.87px;top:606px;font-size:16px;color:#131722;transform:scaleX(0.975);">Oct</div>
<div class="t" style="left:417.93px;top:606px;font-size:16px;color:#131722;transform:scaleX(0.8991);">Nov</div>
<div class="t" style="left:582.61px;top:606px;font-size:16px;color:#131722;transform:scaleX(0.9159);">Dec</div>
<div class="t" style="left:912.83px;top:606px;font-size:16px;color:#131722;transform:scaleX(0.932);">Feb</div>
<div class="t" style="left:1069.25px;top:606px;font-size:16px;color:#131722;transform:scaleX(0.9562);">Mar</div>
<div class="t" style="left:1228.9px;top:606px;font-size:16px;color:#131722;transform:scaleX(0.9535);">Apr</div>
<div class="t" style="left:1391.15px;top:606px;font-size:16px;color:#131722;transform:scaleX(0.9172);">May</div>
<div class="t" style="left:1565.96px;top:606px;font-size:16px;color:#131722;transform:scaleX(0.9796);">Jun</div>
<div class="t" style="left:735.71px;top:606px;font-size:16px;color:#131722;transform:scaleX(0.9886);font-weight:bold;">2024</div>
<div class="t" style="left:42.05px;top:646px;font-size:16px;color:#1e222d;transform:scaleX(0.9949);">TradingView</div>
</body></html>
